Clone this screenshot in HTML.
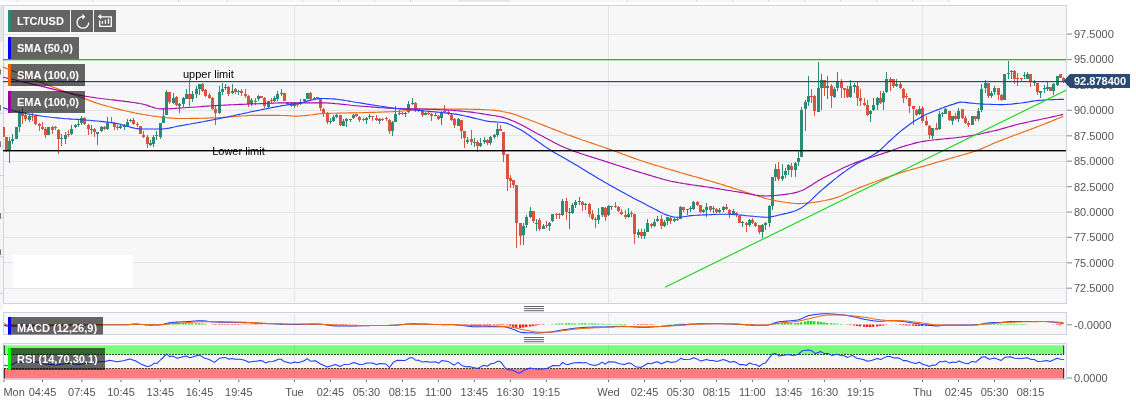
<!DOCTYPE html>
<html lang="en"><head><meta charset="utf-8"><title>LTC/USD</title>
<style>
html,body{margin:0;padding:0;background:#fff;}
body{width:1136px;height:413px;overflow:hidden;font-family:"Liberation Sans",Arial,sans-serif;}
svg{display:block;position:absolute;left:0;top:0;}
.ax{font-family:"Liberation Sans",Arial,sans-serif;font-size:11px;fill:#555;}
.lb{font-family:"Liberation Sans",Arial,sans-serif;font-size:11px;font-weight:bold;fill:#fff;}
.an{font-family:"Liberation Sans",Arial,sans-serif;font-size:11px;fill:#000;}
.tg{font-family:"Liberation Sans",Arial,sans-serif;font-size:11px;font-weight:bold;fill:#fff;}
</style></head><body>
<svg width="1136" height="413" viewBox="0 0 1136 413">
<rect x="0" y="0" width="1136" height="413" fill="#fff"/>
<g id="tabs">
<rect x="0" y="0" width="950" height="1.5" fill="#f6f6f6"/>
<rect x="17.0" y="0" width="1" height="2" fill="#d4d8ee"/>
<rect x="92.0" y="0" width="1" height="2" fill="#d4d8ee"/>
<rect x="178.0" y="0" width="1" height="2" fill="#d4d8ee"/>
<rect x="227.0" y="0" width="1" height="2" fill="#d4d8ee"/>
<rect x="302.0" y="0" width="1" height="2" fill="#d4d8ee"/>
<rect x="338.0" y="0" width="1" height="2" fill="#d4d8ee"/>
<rect x="374.0" y="0" width="1" height="2" fill="#d4d8ee"/>
<rect x="410.0" y="0" width="1" height="2" fill="#d4d8ee"/>
<rect x="459.0" y="0" width="1" height="2" fill="#d4d8ee"/>
<rect x="508.5" y="0" width="1" height="2" fill="#d4d8ee"/>
<rect x="627.0" y="0" width="1" height="2" fill="#d4d8ee"/>
<rect x="696.0" y="0" width="1" height="2" fill="#d4d8ee"/>
<rect x="732.0" y="0" width="1" height="2" fill="#d4d8ee"/>
<rect x="768.0" y="0" width="1" height="2" fill="#d4d8ee"/>
<rect x="804.0" y="0" width="1" height="2" fill="#d4d8ee"/>
<rect x="840.0" y="0" width="1" height="2" fill="#d4d8ee"/>
<rect x="876.0" y="0" width="1" height="2" fill="#d4d8ee"/>
<rect x="912.0" y="0" width="1" height="2" fill="#d4d8ee"/>
<rect x="948.0" y="0" width="1" height="2" fill="#d4d8ee"/>
<rect x="460" y="0" width="49" height="1.5" fill="#e4e4e4"/>
</g>
<rect x="0" y="5" width="3" height="37" fill="#e6e6e6"/>
<rect x="0" y="42" width="3" height="268" fill="#f5f5f5"/>
<rect x="0" y="112.8" width="3" height="1" fill="#cdd3e7"/>
<rect x="0" y="175.0" width="3" height="1" fill="#cdd3e7"/>
<rect x="0" y="217.0" width="3" height="1" fill="#cdd3e7"/>
<rect x="0" y="256.5" width="3" height="1" fill="#cdd3e7"/>
<rect x="0" y="293.0" width="3" height="1" fill="#cdd3e7"/>
<rect x="0" y="69.3" width="1" height="5.3" fill="#777"/>
<rect x="0" y="105" width="1" height="5.6" fill="#777"/>
<rect x="0" y="141.4" width="1" height="5.6" fill="#777"/>
<rect x="0" y="213" width="1" height="5.7" fill="#777"/>
<rect x="0" y="249.3" width="1" height="5.7" fill="#777"/>
<rect id="main" x="3.5" y="5.5" width="1063.0" height="298.0" fill="#f7f7f7" stroke="#cdd3e7" stroke-width="1"/>
<rect id="macd" x="3.5" y="312.5" width="1063.0" height="22.0" fill="#f7f7f7" stroke="#cdd3e7" stroke-width="1"/>
<rect id="rsi" x="3.5" y="343.5" width="1063.0" height="36.0" fill="#f7f7f7" stroke="#cdd3e7" stroke-width="1"/>
<g id="grid" stroke="#e4e4e4" stroke-width="1">
<line x1="4" x2="1066" y1="34.5" y2="34.5"/>
<line x1="4" x2="1066" y1="59.5" y2="59.5"/>
<line x1="4" x2="1066" y1="85.5" y2="85.5"/>
<line x1="4" x2="1066" y1="110.5" y2="110.5"/>
<line x1="4" x2="1066" y1="135.5" y2="135.5"/>
<line x1="4" x2="1066" y1="161.5" y2="161.5"/>
<line x1="4" x2="1066" y1="186.5" y2="186.5"/>
<line x1="4" x2="1066" y1="212.5" y2="212.5"/>
<line x1="4" x2="1066" y1="237.5" y2="237.5"/>
<line x1="4" x2="1066" y1="262.5" y2="262.5"/>
<line x1="4" x2="1066" y1="288.5" y2="288.5"/>
<line x1="294.5" x2="294.5" y1="6" y2="303"/>
<line x1="294.5" x2="294.5" y1="313" y2="334"/>
<line x1="608.5" x2="608.5" y1="6" y2="303"/>
<line x1="608.5" x2="608.5" y1="313" y2="334"/>
<line x1="922.5" x2="922.5" y1="6" y2="303"/>
<line x1="922.5" x2="922.5" y1="313" y2="334"/>
</g>
<rect x="13" y="255" width="120" height="33" fill="#fff"/>
<clipPath id="cm"><rect x="3" y="6" width="1063.5" height="297.5"/></clipPath>
<clipPath id="cd"><rect x="4" y="313" width="1062" height="21"/></clipPath>
<clipPath id="cr"><rect x="4" y="344" width="1062" height="35"/></clipPath>
<g id="series" clip-path="url(#cm)">
<path id="cg" shape-rendering="crispEdges" fill="#2c8b74" d="M9 137h1v26h-1zM12 134h1v10h-1zM16 127h1v12h-1zM19 110h1v22h-1zM29 115h1v7h-1zM48 127h1v8h-1zM61 134h1v12h-1zM65 132h1v12h-1zM71 125h1v10h-1zM75 124h1v4h-1zM78 120h1v7h-1zM81 116h1v9h-1zM91 125h1v9h-1zM97 132h1v13h-1zM101 126h1v6h-1zM107 117h1v13h-1zM120 124h1v5h-1zM124 124h1v6h-1zM127 119h1v8h-1zM130 119h1v3h-1zM150 140h1v6h-1zM153 135h1v12h-1zM156 131h1v9h-1zM160 123h1v16h-1zM163 108h1v15h-1zM166 90h1v25h-1zM173 93h1v11h-1zM179 103h1v10h-1zM183 97h1v10h-1zM186 89h1v10h-1zM192 91h1v11h-1zM196 86h1v12h-1zM199 84h1v11h-1zM219 86h1v28h-1zM222 83h1v12h-1zM225 84h1v6h-1zM232 84h1v10h-1zM238 90h1v5h-1zM251 98h1v8h-1zM258 95h1v6h-1zM268 101h1v7h-1zM274 96h1v6h-1zM277 91h1v10h-1zM281 89h1v7h-1zM294 102h1v6h-1zM300 99h1v6h-1zM304 99h1v3h-1zM307 93h1v6h-1zM314 97h1v3h-1zM330 118h1v6h-1zM333 115h1v7h-1zM336 114h1v4h-1zM343 119h1v7h-1zM346 118h1v9h-1zM350 119h1v3h-1zM353 114h1v5h-1zM366 117h1v7h-1zM369 114h1v5h-1zM379 118h1v6h-1zM392 121h1v15h-1zM395 106h1v16h-1zM399 110h1v5h-1zM405 112h1v5h-1zM408 101h1v12h-1zM412 98h1v7h-1zM425 112h1v3h-1zM435 113h1v3h-1zM441 111h1v14h-1zM458 118h1v8h-1zM467 137h1v7h-1zM474 138h1v9h-1zM480 138h1v9h-1zM484 137h1v7h-1zM490 136h1v9h-1zM494 134h1v5h-1zM497 123h1v14h-1zM523 223h1v22h-1zM526 215h1v13h-1zM530 207h1v11h-1zM536 219h1v12h-1zM543 224h1v5h-1zM549 222h1v9h-1zM552 214h1v8h-1zM562 199h1v17h-1zM569 208h1v21h-1zM572 203h1v11h-1zM575 200h1v8h-1zM579 197h1v8h-1zM585 203h1v7h-1zM598 208h1v16h-1zM602 207h1v10h-1zM608 205h1v11h-1zM611 206h1v4h-1zM628 208h1v10h-1zM638 229h1v9h-1zM644 229h1v10h-1zM647 219h1v13h-1zM654 219h1v8h-1zM657 216h1v6h-1zM664 220h1v7h-1zM667 217h1v8h-1zM674 218h1v4h-1zM677 217h1v4h-1zM680 206h1v13h-1zM687 209h1v6h-1zM690 206h1v6h-1zM693 201h1v9h-1zM703 209h1v4h-1zM706 203h1v14h-1zM713 206h1v7h-1zM719 208h1v5h-1zM723 206h1v6h-1zM733 209h1v6h-1zM742 221h1v6h-1zM749 219h1v8h-1zM762 224h1v14h-1zM765 222h1v8h-1zM769 205h1v22h-1zM772 177h1v33h-1zM775 164h1v17h-1zM782 164h1v17h-1zM785 168h1v10h-1zM788 164h1v11h-1zM795 162h1v15h-1zM798 150h1v16h-1zM801 107h1v50h-1zM805 100h1v31h-1zM808 76h1v30h-1zM818 62h1v50h-1zM821 74h1v36h-1zM827 76h1v23h-1zM834 87h1v11h-1zM837 72h1v19h-1zM850 80h1v18h-1zM854 83h1v10h-1zM870 110h1v12h-1zM873 98h1v13h-1zM877 97h1v13h-1zM883 91h1v19h-1zM886 72h1v21h-1zM896 79h1v8h-1zM919 106h1v9h-1zM932 128h1v11h-1zM939 111h1v19h-1zM942 112h1v5h-1zM945 108h1v6h-1zM952 116h1v9h-1zM958 108h1v14h-1zM972 116h1v9h-1zM978 108h1v13h-1zM981 84h1v28h-1zM985 80h1v13h-1zM991 91h1v7h-1zM994 86h1v9h-1zM1004 74h1v26h-1zM1008 61h1v18h-1zM1011 70h1v9h-1zM1024 72h1v7h-1zM1027 72h1v7h-1zM1034 80h1v6h-1zM1040 91h1v7h-1zM1044 85h1v8h-1zM1047 81h1v10h-1zM1053 83h1v12h-1zM1057 76h1v10h-1zM8 141h3v9h-3zM11 139h3v2h-3zM15 127h3v12h-3zM18 113h3v14h-3zM28 116h3v4h-3zM47 127h3v8h-3zM60 138h3v1h-3zM64 135h3v4h-3zM70 129h3v5h-3zM74 125h3v2h-3zM77 124h3v1h-3zM80 118h3v5h-3zM90 129h3v1h-3zM96 132h3v2h-3zM100 127h3v4h-3zM106 123h3v6h-3zM119 126h3v2h-3zM123 126h3v1h-3zM126 122h3v4h-3zM129 120h3v1h-3zM149 143h3v2h-3zM152 137h3v7h-3zM155 135h3v1h-3zM159 123h3v14h-3zM162 116h3v7h-3zM165 92h3v23h-3zM172 98h3v5h-3zM178 104h3v2h-3zM182 98h3v6h-3zM185 94h3v5h-3zM191 94h3v5h-3zM195 89h3v5h-3zM198 84h3v5h-3zM218 92h3v21h-3zM221 89h3v3h-3zM224 87h3v1h-3zM231 91h3v2h-3zM237 91h3v1h-3zM250 100h3v4h-3zM257 96h3v3h-3zM267 101h3v6h-3zM273 98h3v3h-3zM276 94h3v5h-3zM280 93h3v1h-3zM293 103h3v3h-3zM299 102h3v2h-3zM303 99h3v2h-3zM306 93h3v6h-3zM313 98h3v1h-3zM329 121h3v1h-3zM332 117h3v4h-3zM335 115h3v2h-3zM342 121h3v5h-3zM345 119h3v2h-3zM349 119h3v1h-3zM352 115h3v3h-3zM365 118h3v2h-3zM368 116h3v1h-3zM378 119h3v2h-3zM391 122h3v9h-3zM394 114h3v8h-3zM398 113h3v1h-3zM404 113h3v1h-3zM407 104h3v8h-3zM411 103h3v1h-3zM424 113h3v2h-3zM434 115h3v1h-3zM440 113h3v5h-3zM457 119h3v7h-3zM466 140h3v2h-3zM473 142h3v1h-3zM479 143h3v3h-3zM483 140h3v2h-3zM489 137h3v6h-3zM493 135h3v2h-3zM496 129h3v6h-3zM522 226h3v9h-3zM525 217h3v8h-3zM529 211h3v6h-3zM535 223h3v1h-3zM542 226h3v3h-3zM548 223h3v3h-3zM551 214h3v7h-3zM561 201h3v14h-3zM568 212h3v1h-3zM571 205h3v8h-3zM574 202h3v3h-3zM578 201h3v1h-3zM584 204h3v1h-3zM597 215h3v5h-3zM601 207h3v8h-3zM607 206h3v9h-3zM610 206h3v1h-3zM627 214h3v3h-3zM637 232h3v3h-3zM643 232h3v4h-3zM646 223h3v9h-3zM653 222h3v4h-3zM656 219h3v2h-3zM663 222h3v4h-3zM666 217h3v4h-3zM673 219h3v2h-3zM676 219h3v1h-3zM679 207h3v12h-3zM686 209h3v1h-3zM689 208h3v1h-3zM692 202h3v7h-3zM702 210h3v2h-3zM705 207h3v3h-3zM712 208h3v1h-3zM718 210h3v2h-3zM722 207h3v3h-3zM732 211h3v3h-3zM741 222h3v1h-3zM748 220h3v5h-3zM761 225h3v7h-3zM764 223h3v2h-3zM768 206h3v17h-3zM771 177h3v29h-3zM774 169h3v8h-3zM781 176h3v3h-3zM784 171h3v4h-3zM787 165h3v5h-3zM794 163h3v7h-3zM797 158h3v4h-3zM800 110h3v47h-3zM804 102h3v7h-3zM807 96h3v6h-3zM817 88h3v24h-3zM820 80h3v8h-3zM826 86h3v2h-3zM833 89h3v8h-3zM836 82h3v6h-3zM849 86h3v11h-3zM853 85h3v2h-3zM869 111h3v3h-3zM872 105h3v5h-3zM876 98h3v7h-3zM882 93h3v9h-3zM885 79h3v13h-3zM895 84h3v2h-3zM918 109h3v5h-3zM931 128h3v8h-3zM938 114h3v15h-3zM941 113h3v1h-3zM944 109h3v5h-3zM951 116h3v5h-3zM957 111h3v8h-3zM971 116h3v9h-3zM977 111h3v8h-3zM980 89h3v21h-3zM984 83h3v5h-3zM990 93h3v3h-3zM993 88h3v4h-3zM1003 74h3v26h-3zM1007 73h3v1h-3zM1010 71h3v1h-3zM1023 75h3v1h-3zM1026 74h3v5h-3zM1033 81h3v2h-3zM1039 91h3v2h-3zM1043 88h3v1h-3zM1046 87h3v2h-3zM1052 84h3v7h-3zM1056 76h3v9h-3z"/>
<path id="crd" shape-rendering="crispEdges" fill="#d8543f" d="M3 127h1v10h-1zM6 137h1v15h-1zM22 108h1v16h-1zM25 112h1v9h-1zM32 113h1v8h-1zM35 115h1v10h-1zM39 123h1v8h-1zM42 122h1v8h-1zM45 127h1v11h-1zM52 126h1v8h-1zM55 126h1v4h-1zM58 129h1v25h-1zM68 130h1v7h-1zM84 117h1v8h-1zM88 124h1v11h-1zM94 128h1v9h-1zM104 126h1v4h-1zM111 117h1v5h-1zM114 122h1v8h-1zM117 125h1v5h-1zM133 118h1v7h-1zM137 122h1v5h-1zM140 126h1v8h-1zM143 131h1v7h-1zM147 135h1v13h-1zM169 92h1v12h-1zM176 96h1v10h-1zM189 80h1v26h-1zM202 83h1v9h-1zM205 89h1v8h-1zM209 93h1v6h-1zM212 97h1v13h-1zM215 106h1v19h-1zM228 86h1v10h-1zM235 88h1v6h-1zM241 89h1v7h-1zM245 89h1v9h-1zM248 95h1v12h-1zM255 98h1v7h-1zM261 96h1v2h-1zM264 97h1v11h-1zM271 98h1v5h-1zM284 93h1v8h-1zM287 102h1v2h-1zM291 102h1v5h-1zM297 103h1v4h-1zM310 92h1v8h-1zM317 97h1v2h-1zM320 98h1v13h-1zM323 108h1v9h-1zM327 112h1v12h-1zM340 115h1v11h-1zM356 114h1v3h-1zM359 116h1v6h-1zM363 118h1v3h-1zM372 116h1v5h-1zM376 115h1v6h-1zM382 118h1v3h-1zM386 117h1v4h-1zM389 119h1v15h-1zM402 112h1v3h-1zM415 102h1v10h-1zM418 109h1v3h-1zM422 110h1v7h-1zM428 112h1v3h-1zM431 113h1v8h-1zM438 115h1v5h-1zM444 105h1v8h-1zM448 111h1v4h-1zM451 114h1v7h-1zM454 118h1v10h-1zM461 120h1v19h-1zM464 131h1v17h-1zM471 130h1v15h-1zM477 140h1v12h-1zM487 139h1v6h-1zM500 125h1v6h-1zM503 132h1v30h-1zM507 154h1v37h-1zM510 175h1v13h-1zM513 180h1v8h-1zM516 185h1v63h-1zM520 223h1v22h-1zM533 211h1v12h-1zM539 218h1v13h-1zM546 221h1v7h-1zM556 213h1v6h-1zM559 213h1v6h-1zM566 198h1v22h-1zM582 201h1v10h-1zM589 203h1v14h-1zM592 210h1v10h-1zM595 217h1v11h-1zM605 207h1v14h-1zM615 202h1v6h-1zM618 206h1v6h-1zM621 209h1v6h-1zM625 210h1v9h-1zM631 211h1v6h-1zM634 214h1v30h-1zM641 229h1v10h-1zM651 223h1v5h-1zM661 215h1v14h-1zM670 217h1v7h-1zM683 207h1v5h-1zM697 201h1v5h-1zM700 205h1v8h-1zM710 206h1v6h-1zM716 208h1v5h-1zM726 204h1v6h-1zM729 209h1v9h-1zM736 212h1v5h-1zM739 215h1v8h-1zM746 222h1v10h-1zM752 218h1v6h-1zM755 222h1v5h-1zM759 225h1v9h-1zM778 162h1v19h-1zM791 163h1v14h-1zM811 89h1v14h-1zM814 95h1v21h-1zM824 80h1v16h-1zM831 84h1v24h-1zM841 79h1v19h-1zM844 88h1v10h-1zM847 86h1v12h-1zM857 82h1v24h-1zM860 89h1v17h-1zM864 98h1v8h-1zM867 100h1v16h-1zM880 91h1v13h-1zM890 77h1v14h-1zM893 79h1v9h-1zM900 82h1v7h-1zM903 88h1v15h-1zM906 93h1v6h-1zM909 98h1v15h-1zM913 106h1v19h-1zM916 109h1v7h-1zM922 106h1v17h-1zM926 116h1v10h-1zM929 125h1v14h-1zM936 123h1v7h-1zM949 111h1v10h-1zM955 113h1v7h-1zM962 109h1v10h-1zM965 116h1v8h-1zM968 121h1v6h-1zM975 116h1v5h-1zM988 83h1v15h-1zM998 88h1v12h-1zM1001 94h1v7h-1zM1014 70h1v14h-1zM1017 73h1v13h-1zM1021 78h1v3h-1zM1030 74h1v13h-1zM1037 83h1v12h-1zM1050 87h1v4h-1zM1060 74h1v4h-1zM1063 77h1v6h-1zM2 127h3v10h-3zM5 137h3v13h-3zM21 113h3v3h-3zM24 115h3v4h-3zM31 116h3v1h-3zM34 116h3v8h-3zM38 124h3v2h-3zM41 127h3v2h-3zM44 129h3v6h-3zM51 127h3v3h-3zM54 127h3v1h-3zM57 130h3v9h-3zM67 134h3v1h-3zM83 118h3v6h-3zM87 125h3v4h-3zM93 129h3v3h-3zM103 127h3v2h-3zM110 122h3v1h-3zM113 123h3v4h-3zM116 127h3v1h-3zM132 120h3v4h-3zM136 124h3v1h-3zM139 126h3v8h-3zM142 135h3v2h-3zM146 137h3v7h-3zM168 92h3v10h-3zM175 97h3v8h-3zM188 94h3v5h-3zM201 84h3v7h-3zM204 90h3v6h-3zM208 95h3v3h-3zM211 98h3v11h-3zM214 109h3v4h-3zM227 87h3v7h-3zM234 89h3v3h-3zM240 91h3v2h-3zM244 94h3v2h-3zM247 96h3v8h-3zM254 101h3v1h-3zM260 96h3v2h-3zM263 98h3v8h-3zM270 100h3v1h-3zM283 93h3v8h-3zM286 102h3v2h-3zM290 103h3v3h-3zM296 104h3v1h-3zM309 93h3v6h-3zM316 97h3v1h-3zM319 99h3v9h-3zM322 109h3v5h-3zM326 114h3v8h-3zM339 115h3v10h-3zM355 114h3v2h-3zM358 117h3v3h-3zM362 119h3v1h-3zM371 116h3v1h-3zM375 118h3v2h-3zM381 119h3v1h-3zM385 118h3v1h-3zM388 120h3v11h-3zM401 113h3v1h-3zM414 103h3v6h-3zM417 109h3v2h-3zM421 111h3v4h-3zM427 113h3v1h-3zM430 114h3v2h-3zM437 116h3v3h-3zM443 111h3v1h-3zM447 112h3v1h-3zM450 115h3v5h-3zM453 119h3v6h-3zM460 120h3v11h-3zM463 131h3v7h-3zM470 139h3v3h-3zM476 142h3v4h-3zM486 140h3v3h-3zM499 129h3v2h-3zM502 132h3v23h-3zM506 154h3v25h-3zM509 178h3v3h-3zM512 180h3v5h-3zM515 185h3v38h-3zM519 223h3v13h-3zM532 211h3v10h-3zM538 220h3v9h-3zM545 225h3v1h-3zM555 214h3v1h-3zM558 214h3v1h-3zM565 201h3v11h-3zM581 202h3v3h-3zM588 204h3v10h-3zM591 214h3v5h-3zM594 219h3v1h-3zM604 208h3v9h-3zM614 206h3v1h-3zM617 207h3v4h-3zM620 212h3v2h-3zM624 215h3v2h-3zM630 213h3v1h-3zM633 214h3v20h-3zM640 232h3v4h-3zM650 224h3v2h-3zM660 219h3v7h-3zM669 218h3v3h-3zM682 207h3v3h-3zM696 202h3v3h-3zM699 205h3v7h-3zM709 206h3v4h-3zM715 209h3v3h-3zM725 207h3v2h-3zM728 210h3v4h-3zM735 213h3v2h-3zM738 216h3v7h-3zM745 223h3v2h-3zM751 220h3v3h-3zM754 223h3v3h-3zM758 225h3v7h-3zM777 169h3v10h-3zM790 166h3v4h-3zM810 96h3v1h-3zM813 96h3v15h-3zM823 80h3v8h-3zM830 86h3v10h-3zM840 82h3v6h-3zM843 88h3v2h-3zM846 89h3v8h-3zM856 86h3v12h-3zM859 98h3v3h-3zM863 103h3v2h-3zM866 105h3v10h-3zM879 98h3v5h-3zM889 79h3v2h-3zM892 79h3v7h-3zM899 84h3v4h-3zM902 89h3v9h-3zM905 96h3v1h-3zM908 98h3v8h-3zM912 106h3v3h-3zM915 110h3v5h-3zM921 108h3v13h-3zM925 121h3v4h-3zM928 126h3v9h-3zM935 128h3v2h-3zM948 111h3v9h-3zM954 116h3v3h-3zM961 109h3v9h-3zM964 118h3v5h-3zM967 123h3v2h-3zM974 116h3v3h-3zM987 83h3v13h-3zM997 88h3v7h-3zM1000 95h3v5h-3zM1013 71h3v8h-3zM1016 78h3v1h-3zM1020 78h3v1h-3zM1029 74h3v8h-3zM1036 83h3v9h-3zM1049 87h3v4h-3zM1059 74h3v4h-3zM1062 78h3v3h-3z"/>
<path id="sma100" d="M3.1 67.1 L5.2 67.9 L7.2 68.7 L9.2 69.5 L11.2 70.3 L13.2 71.1 L15.2 71.9 L17.1 72.8 L19.1 73.6 L21.1 74.4 L23.1 75.2 L25.1 76.0 L27.1 76.8 L29.1 77.6 L31.1 78.4 L33.1 79.2 L35.1 80.0 L37.1 80.8 L39.1 81.6 L41.1 82.4 L43.1 83.2 L45.1 84.0 L47.1 84.8 L49.1 85.5 L51.1 86.3 L53.1 87.1 L55.1 87.8 L57.1 88.6 L59.1 89.3 L61.1 90.1 L63.1 90.8 L65.2 91.6 L67.2 92.3 L69.2 93.0 L71.2 93.8 L73.2 94.5 L75.2 95.2 L77.2 96.0 L79.2 96.7 L81.2 97.4 L83.2 98.1 L85.2 98.9 L87.2 99.6 L89.2 100.4 L91.2 101.1 L93.2 101.9 L95.2 102.6 L97.2 103.3 L99.2 103.9 L101.2 104.5 L103.2 105.1 L105.2 105.6 L107.2 106.2 L109.2 106.8 L111.2 107.3 L113.2 107.8 L115.2 108.4 L117.2 108.9 L119.2 109.4 L121.2 109.9 L123.2 110.3 L125.2 110.8 L127.2 111.3 L129.2 111.7 L131.2 112.1 L133.2 112.6 L135.2 113.0 L137.2 113.4 L139.2 113.7 L141.2 114.1 L143.2 114.5 L145.2 114.8 L147.2 115.1 L149.2 115.5 L151.2 115.8 L153.2 116.1 L155.2 116.3 L157.2 116.6 L159.2 116.8 L161.2 117.1 L163.2 117.3 L165.2 117.5 L167.2 117.7 L169.2 117.9 L171.2 118.1 L173.2 118.3 L175.2 118.4 L177.2 118.5 L179.2 118.5 L181.2 118.5 L183.2 118.5 L185.2 118.5 L187.2 118.5 L189.2 118.5 L191.2 118.4 L193.2 118.4 L195.2 118.4 L197.2 118.3 L199.2 118.3 L201.2 118.2 L203.2 118.2 L205.2 118.1 L207.2 118.1 L209.2 118.0 L211.2 117.9 L213.2 117.8 L215.2 117.8 L217.2 117.7 L219.2 117.6 L221.2 117.5 L223.2 117.3 L225.2 117.2 L227.2 117.1 L229.2 116.9 L231.2 116.8 L233.2 116.6 L235.2 116.4 L237.2 116.3 L239.2 116.1 L241.2 116.0 L243.2 115.8 L245.2 115.7 L247.2 115.6 L249.2 115.5 L251.2 115.4 L253.2 115.4 L255.2 115.4 L257.1 115.4 L259.1 115.4 L261.1 115.4 L263.1 115.4 L265.1 115.4 L267.1 115.4 L269.1 115.4 L271.1 115.4 L273.1 115.4 L275.1 115.4 L277.1 115.4 L279.1 115.4 L281.1 115.5 L283.1 115.5 L285.1 115.5 L287.1 115.6 L289.1 115.7 L291.1 115.9 L293.1 116.0 L295.1 116.1 L297.1 116.1 L299.1 116.0 L301.1 115.9 L303.1 115.8 L305.1 115.6 L307.1 115.4 L309.1 115.2 L311.1 115.0 L313.1 114.7 L315.1 114.4 L317.1 114.1 L319.1 113.8 L321.1 113.6 L323.1 113.5 L325.1 113.4 L327.1 113.4 L329.1 113.3 L331.1 113.3 L333.1 113.2 L335.1 113.2 L337.1 113.1 L339.1 113.1 L341.1 113.1 L343.1 113.0 L345.1 113.0 L347.1 113.0 L349.1 112.9 L351.1 112.9 L353.1 112.8 L355.1 112.8 L357.1 112.8 L359.1 112.7 L361.1 112.7 L363.1 112.6 L365.1 112.5 L367.1 112.5 L369.1 112.4 L371.1 112.4 L373.1 112.3 L375.1 112.3 L377.1 112.2 L379.1 112.1 L381.1 112.1 L383.1 112.0 L385.1 111.9 L387.1 111.9 L389.1 111.8 L391.1 111.7 L393.1 111.6 L395.1 111.5 L397.1 111.5 L399.1 111.3 L401.1 111.2 L403.1 111.0 L405.1 110.8 L407.1 110.6 L409.1 110.4 L411.1 110.1 L413.1 109.9 L415.1 109.7 L417.1 109.5 L419.1 109.3 L421.1 109.2 L423.1 109.1 L425.1 109.1 L427.1 109.1 L429.1 109.1 L431.1 109.1 L433.1 109.1 L435.1 109.1 L437.1 109.1 L439.1 109.1 L441.1 109.1 L443.1 109.1 L445.1 109.1 L447.1 109.1 L449.1 109.1 L451.1 109.1 L453.1 109.1 L455.1 109.1 L457.1 109.1 L459.1 109.1 L461.1 109.1 L463.1 109.1 L465.1 109.1 L467.1 109.1 L469.1 109.2 L471.1 109.2 L473.1 109.3 L475.1 109.3 L477.1 109.4 L479.1 109.4 L481.1 109.5 L483.1 109.6 L485.1 109.7 L487.1 109.7 L489.1 109.8 L491.1 110.0 L493.1 110.1 L495.1 110.4 L497.1 110.6 L499.1 110.9 L501.1 111.3 L503.1 111.7 L505.1 112.0 L507.1 112.5 L509.1 112.9 L511.1 113.4 L513.1 114.0 L515.1 114.6 L517.1 115.3 L519.1 116.1 L521.1 116.8 L523.1 117.6 L525.1 118.3 L527.1 119.0 L529.1 119.8 L531.1 120.5 L533.1 121.2 L535.1 122.0 L537.1 122.8 L539.1 123.5 L541.1 124.3 L543.1 125.1 L545.1 125.9 L547.1 126.7 L549.1 127.5 L551.1 128.3 L553.1 129.1 L555.1 129.9 L557.1 130.7 L559.1 131.4 L561.1 132.2 L563.1 133.0 L565.1 133.7 L567.1 134.5 L569.1 135.2 L571.1 135.9 L573.1 136.6 L575.1 137.4 L577.1 138.1 L579.1 138.8 L581.1 139.5 L583.1 140.2 L585.1 140.8 L587.1 141.5 L589.1 142.2 L591.1 142.9 L593.1 143.6 L595.1 144.3 L597.1 145.0 L599.1 145.7 L601.1 146.3 L603.1 147.0 L605.1 147.7 L607.1 148.4 L609.1 149.1 L611.1 149.8 L613.1 150.5 L615.1 151.2 L617.1 152.0 L619.1 152.7 L621.1 153.4 L623.1 154.2 L625.1 154.9 L627.1 155.7 L629.1 156.4 L631.1 157.1 L633.1 157.9 L635.1 158.6 L637.1 159.3 L639.1 160.0 L641.1 160.7 L643.1 161.3 L645.1 162.0 L647.1 162.6 L649.1 163.3 L651.1 163.9 L653.1 164.5 L655.1 165.1 L657.1 165.7 L659.1 166.3 L661.1 166.9 L663.1 167.5 L665.1 168.1 L667.1 168.7 L669.1 169.3 L671.1 169.9 L673.1 170.4 L675.1 171.0 L677.1 171.6 L679.1 172.2 L681.1 172.8 L683.1 173.3 L685.1 173.9 L687.1 174.5 L689.1 175.1 L691.1 175.6 L693.1 176.2 L695.1 176.7 L697.1 177.3 L699.1 177.9 L701.1 178.4 L703.1 179.0 L705.1 179.6 L707.1 180.1 L709.1 180.7 L711.1 181.3 L713.1 181.9 L715.1 182.5 L717.1 183.1 L719.1 183.7 L721.1 184.3 L723.1 184.9 L725.1 185.6 L727.1 186.2 L729.1 186.8 L731.1 187.4 L733.1 188.1 L735.1 188.7 L737.1 189.3 L739.1 190.0 L741.1 190.6 L743.1 191.3 L745.1 192.0 L747.1 192.6 L749.1 193.3 L751.1 193.9 L753.1 194.6 L755.1 195.2 L757.1 195.8 L759.1 196.4 L761.1 197.0 L763.1 197.6 L765.1 198.2 L767.1 198.8 L769.1 199.3 L771.1 199.8 L773.1 200.2 L775.1 200.6 L777.1 201.0 L779.1 201.4 L781.1 201.7 L783.1 202.0 L785.1 202.3 L787.1 202.5 L789.1 202.8 L791.1 203.1 L793.1 203.3 L795.1 203.5 L797.1 203.6 L799.1 203.6 L801.1 203.5 L803.1 203.4 L805.1 203.2 L807.1 203.0 L809.1 202.9 L811.1 202.7 L813.1 202.4 L815.1 202.2 L817.1 201.9 L819.1 201.6 L821.1 201.2 L823.1 200.8 L825.1 200.5 L827.1 200.0 L829.1 199.6 L831.1 199.1 L833.1 198.6 L835.1 198.0 L837.1 197.4 L839.1 196.8 L841.1 196.0 L843.1 195.1 L845.1 194.1 L847.1 193.1 L849.1 192.1 L851.1 191.2 L853.1 190.4 L855.1 189.5 L857.1 188.7 L859.1 187.9 L861.1 187.1 L863.1 186.3 L865.1 185.5 L867.1 184.8 L869.1 184.0 L871.1 183.3 L873.1 182.5 L875.1 181.8 L877.1 181.0 L879.1 180.3 L881.1 179.6 L883.1 178.8 L885.1 178.1 L887.1 177.4 L889.1 176.7 L891.1 175.9 L893.1 175.2 L895.1 174.6 L897.1 173.9 L899.1 173.2 L901.1 172.6 L903.1 172.0 L905.1 171.4 L907.1 170.8 L909.1 170.2 L911.1 169.7 L913.1 169.1 L915.1 168.6 L917.1 168.0 L919.1 167.5 L921.1 166.9 L923.1 166.4 L925.1 165.8 L927.1 165.2 L929.1 164.6 L931.1 164.1 L933.1 163.5 L935.1 162.9 L937.1 162.3 L939.1 161.7 L941.1 161.1 L943.1 160.6 L945.1 160.0 L947.1 159.4 L949.1 158.8 L951.1 158.2 L953.1 157.6 L955.1 157.0 L957.1 156.5 L959.1 155.9 L961.1 155.3 L963.1 154.8 L965.1 154.2 L967.1 153.6 L969.1 153.0 L971.1 152.4 L973.1 151.8 L975.1 151.1 L977.1 150.4 L979.1 149.7 L981.1 148.9 L983.1 148.1 L985.1 147.2 L987.1 146.3 L989.1 145.4 L991.1 144.5 L993.1 143.6 L995.1 142.8 L997.1 142.0 L999.1 141.2 L1001.1 140.4 L1003.1 139.6 L1005.1 138.8 L1007.1 138.1 L1009.1 137.3 L1011.1 136.6 L1013.1 135.8 L1015.1 135.0 L1017.1 134.3 L1019.1 133.6 L1021.1 132.8 L1023.1 132.1 L1025.2 131.3 L1027.2 130.6 L1029.2 129.8 L1031.2 129.1 L1033.2 128.3 L1035.2 127.6 L1037.2 126.8 L1039.2 126.0 L1041.2 125.2 L1043.2 124.5 L1045.2 123.7 L1047.2 122.9 L1049.2 122.1 L1051.2 121.3 L1053.2 120.4 L1055.2 119.6 L1057.2 118.8 L1059.2 118.0 L1061.2 117.2 L1063.2 116.3 L1063.2 116.3" fill="none" stroke="#ee6a12" stroke-width="1.15" stroke-linejoin="round"/>
<path id="ema100" d="M3.1 77.2 L5.2 77.7 L7.2 78.1 L9.2 78.6 L11.2 79.1 L13.2 79.5 L15.2 80.0 L17.1 80.5 L19.1 81.0 L21.1 81.4 L23.1 81.9 L25.1 82.4 L27.1 82.9 L29.1 83.3 L31.1 83.8 L33.1 84.3 L35.1 84.7 L37.1 85.2 L39.1 85.7 L41.1 86.2 L43.1 86.6 L45.1 87.1 L47.1 87.6 L49.1 88.1 L51.1 88.6 L53.1 89.1 L55.1 89.6 L57.1 90.1 L59.1 90.6 L61.1 91.1 L63.1 91.6 L65.2 92.0 L67.2 92.5 L69.2 93.0 L71.2 93.4 L73.2 93.9 L75.2 94.3 L77.2 94.7 L79.2 95.1 L81.2 95.5 L83.2 95.9 L85.2 96.2 L87.2 96.5 L89.2 96.8 L91.2 97.2 L93.2 97.4 L95.2 97.7 L97.2 98.0 L99.2 98.2 L101.2 98.5 L103.2 98.7 L105.2 99.0 L107.2 99.2 L109.2 99.5 L111.2 99.7 L113.2 99.9 L115.2 100.1 L117.2 100.4 L119.2 100.6 L121.2 100.9 L123.2 101.1 L125.2 101.4 L127.2 101.6 L129.2 101.9 L131.2 102.2 L133.2 102.5 L135.2 102.8 L137.2 103.1 L139.2 103.5 L141.2 103.8 L143.2 104.2 L145.2 104.8 L147.2 105.4 L149.2 106.1 L151.2 106.8 L153.2 107.4 L155.2 108.0 L157.2 108.5 L159.2 108.8 L161.2 108.8 L163.2 108.8 L165.2 108.8 L167.2 108.7 L169.2 108.7 L171.2 108.6 L173.2 108.5 L175.2 108.4 L177.2 108.2 L179.2 108.1 L181.2 108.0 L183.2 107.8 L185.2 107.7 L187.2 107.5 L189.2 107.4 L191.2 107.3 L193.2 107.2 L195.2 107.0 L197.2 106.9 L199.2 106.7 L201.2 106.6 L203.2 106.4 L205.2 106.3 L207.2 106.1 L209.2 106.0 L211.2 105.8 L213.2 105.7 L215.2 105.6 L217.2 105.5 L219.2 105.4 L221.2 105.3 L223.2 105.2 L225.2 105.1 L227.2 105.0 L229.2 104.9 L231.2 104.8 L233.2 104.7 L235.2 104.6 L237.2 104.5 L239.2 104.4 L241.2 104.3 L243.2 104.3 L245.2 104.2 L247.2 104.1 L249.2 104.0 L251.2 104.0 L253.2 103.9 L255.2 103.8 L257.1 103.7 L259.1 103.7 L261.1 103.6 L263.1 103.5 L265.1 103.4 L267.1 103.3 L269.1 103.2 L271.1 103.2 L273.1 103.1 L275.1 103.0 L277.1 103.0 L279.1 102.9 L281.1 102.9 L283.1 102.9 L285.1 102.9 L287.1 102.9 L289.1 102.9 L291.1 102.9 L293.1 102.9 L295.1 102.9 L297.1 102.9 L299.1 102.9 L301.1 102.9 L303.1 102.9 L305.1 102.9 L307.1 102.9 L309.1 102.9 L311.1 102.9 L313.1 102.9 L315.1 102.9 L317.1 102.9 L319.1 102.9 L321.1 102.9 L323.1 102.9 L325.1 102.9 L327.1 103.0 L329.1 103.1 L331.1 103.2 L333.1 103.4 L335.1 103.6 L337.1 103.7 L339.1 103.9 L341.1 104.2 L343.1 104.4 L345.1 104.6 L347.1 104.8 L349.1 105.0 L351.1 105.3 L353.1 105.5 L355.1 105.7 L357.1 105.8 L359.1 106.0 L361.1 106.2 L363.1 106.3 L365.1 106.5 L367.1 106.6 L369.1 106.8 L371.1 106.9 L373.1 107.1 L375.1 107.3 L377.1 107.4 L379.1 107.6 L381.1 107.7 L383.1 107.8 L385.1 108.0 L387.1 108.1 L389.1 108.2 L391.1 108.3 L393.1 108.4 L395.1 108.5 L397.1 108.5 L399.1 108.6 L401.1 108.6 L403.1 108.7 L405.1 108.7 L407.1 108.7 L409.1 108.8 L411.1 108.8 L413.1 108.8 L415.1 108.9 L417.1 108.9 L419.1 108.9 L421.1 109.0 L423.1 109.0 L425.1 109.0 L427.1 109.1 L429.1 109.2 L431.1 109.2 L433.1 109.3 L435.1 109.4 L437.1 109.5 L439.1 109.6 L441.1 109.7 L443.1 109.8 L445.1 109.9 L447.1 110.1 L449.1 110.2 L451.1 110.3 L453.1 110.5 L455.1 110.6 L457.1 110.8 L459.1 110.9 L461.1 111.1 L463.1 111.3 L465.1 111.5 L467.1 111.7 L469.1 111.9 L471.1 112.1 L473.1 112.4 L475.1 112.7 L477.1 113.0 L479.1 113.3 L481.1 113.6 L483.1 113.9 L485.1 114.3 L487.1 114.6 L489.1 114.9 L491.1 115.2 L493.1 115.5 L495.1 115.8 L497.1 116.1 L499.1 116.5 L501.1 116.9 L503.1 117.4 L505.1 118.0 L507.1 118.7 L509.1 119.4 L511.1 120.2 L513.1 121.0 L515.1 121.8 L517.1 122.7 L519.1 123.7 L521.1 124.7 L523.1 125.7 L525.1 126.8 L527.1 127.9 L529.1 129.1 L531.1 130.2 L533.1 131.3 L535.1 132.4 L537.1 133.5 L539.1 134.5 L541.1 135.6 L543.1 136.6 L545.1 137.7 L547.1 138.7 L549.1 139.8 L551.1 140.8 L553.1 141.9 L555.1 142.9 L557.1 143.9 L559.1 144.9 L561.1 145.9 L563.1 146.8 L565.1 147.7 L567.1 148.5 L569.1 149.3 L571.1 150.1 L573.1 150.9 L575.1 151.6 L577.1 152.3 L579.1 153.0 L581.1 153.7 L583.1 154.3 L585.1 155.0 L587.1 155.6 L589.1 156.3 L591.1 156.9 L593.1 157.5 L595.1 158.1 L597.1 158.7 L599.1 159.4 L601.1 160.0 L603.1 160.6 L605.1 161.3 L607.1 161.9 L609.1 162.6 L611.1 163.2 L613.1 163.9 L615.1 164.5 L617.1 165.2 L619.1 165.8 L621.1 166.5 L623.1 167.1 L625.1 167.8 L627.1 168.4 L629.1 169.0 L631.1 169.7 L633.1 170.3 L635.1 170.9 L637.1 171.5 L639.1 172.1 L641.1 172.7 L643.1 173.3 L645.1 173.9 L647.1 174.5 L649.1 175.1 L651.1 175.7 L653.1 176.3 L655.1 176.9 L657.1 177.5 L659.1 178.0 L661.1 178.6 L663.1 179.2 L665.1 179.7 L667.1 180.2 L669.1 180.7 L671.1 181.2 L673.1 181.6 L675.1 182.0 L677.1 182.4 L679.1 182.8 L681.1 183.1 L683.1 183.5 L685.1 183.8 L687.1 184.1 L689.1 184.4 L691.1 184.7 L693.1 185.0 L695.1 185.3 L697.1 185.6 L699.1 185.8 L701.1 186.1 L703.1 186.4 L705.1 186.7 L707.1 187.0 L709.1 187.3 L711.1 187.6 L713.1 187.9 L715.1 188.3 L717.1 188.6 L719.1 188.9 L721.1 189.2 L723.1 189.5 L725.1 189.9 L727.1 190.2 L729.1 190.5 L731.1 190.8 L733.1 191.2 L735.1 191.5 L737.1 191.8 L739.1 192.1 L741.1 192.4 L743.1 192.7 L745.1 193.1 L747.1 193.5 L749.1 193.9 L751.1 194.3 L753.1 194.6 L755.1 195.0 L757.1 195.3 L759.1 195.6 L761.1 195.8 L763.1 195.9 L765.1 196.0 L767.1 196.0 L769.1 195.9 L771.1 195.8 L773.1 195.7 L775.1 195.5 L777.1 195.3 L779.1 195.1 L781.1 194.9 L783.1 194.6 L785.1 194.4 L787.1 194.1 L789.1 193.8 L791.1 193.5 L793.1 193.1 L795.1 192.6 L797.1 192.1 L799.1 191.5 L801.1 190.8 L803.1 189.9 L805.1 188.9 L807.1 187.8 L809.1 186.6 L811.1 185.4 L813.1 184.1 L815.1 182.8 L817.1 181.6 L819.1 180.3 L821.1 179.2 L823.1 178.1 L825.1 177.0 L827.1 176.0 L829.1 175.0 L831.1 173.9 L833.1 172.9 L835.1 171.9 L837.1 170.9 L839.1 169.9 L841.1 169.0 L843.1 168.0 L845.1 167.1 L847.1 166.2 L849.1 165.3 L851.1 164.5 L853.1 163.7 L855.1 162.9 L857.1 162.1 L859.1 161.4 L861.1 160.7 L863.1 160.0 L865.1 159.3 L867.1 158.6 L869.1 158.0 L871.1 157.3 L873.1 156.7 L875.1 156.0 L877.1 155.4 L879.1 154.7 L881.1 154.1 L883.1 153.4 L885.1 152.8 L887.1 152.1 L889.1 151.4 L891.1 150.7 L893.1 150.0 L895.1 149.2 L897.1 148.5 L899.1 147.8 L901.1 147.1 L903.1 146.5 L905.1 145.9 L907.1 145.3 L909.1 144.7 L911.1 144.2 L913.1 143.6 L915.1 143.1 L917.1 142.6 L919.1 142.2 L921.1 141.8 L923.1 141.4 L925.1 141.1 L927.1 140.8 L929.1 140.5 L931.1 140.3 L933.1 140.0 L935.1 139.8 L937.1 139.6 L939.1 139.4 L941.1 139.2 L943.1 139.0 L945.1 138.8 L947.1 138.6 L949.1 138.4 L951.1 138.2 L953.1 138.0 L955.1 137.8 L957.1 137.6 L959.1 137.3 L961.1 137.1 L963.1 136.8 L965.1 136.5 L967.1 136.2 L969.1 135.9 L971.1 135.6 L973.1 135.2 L975.1 134.8 L977.1 134.5 L979.1 134.1 L981.1 133.7 L983.1 133.2 L985.1 132.8 L987.1 132.4 L989.1 131.9 L991.1 131.5 L993.1 131.0 L995.1 130.6 L997.1 130.1 L999.1 129.6 L1001.1 129.0 L1003.1 128.4 L1005.1 127.9 L1007.1 127.3 L1009.1 126.7 L1011.1 126.1 L1013.1 125.6 L1015.1 125.0 L1017.1 124.5 L1019.1 124.0 L1021.1 123.5 L1023.1 123.1 L1025.2 122.6 L1027.2 122.2 L1029.2 121.8 L1031.2 121.3 L1033.2 120.9 L1035.2 120.5 L1037.2 120.1 L1039.2 119.7 L1041.2 119.3 L1043.2 118.8 L1045.2 118.4 L1047.2 118.0 L1049.2 117.5 L1051.2 117.1 L1053.2 116.6 L1055.2 116.2 L1057.2 115.8 L1059.2 115.3 L1061.2 114.9 L1063.2 114.4 L1063.2 114.4" fill="none" stroke="#a40cae" stroke-width="1.15" stroke-linejoin="round"/>
<path id="sma50" d="M3.1 107.8 L5.2 108.4 L7.2 109.0 L9.2 109.6 L11.2 110.2 L13.2 110.8 L15.2 111.3 L17.1 111.8 L19.1 112.2 L21.1 112.6 L23.1 113.0 L25.1 113.4 L27.1 113.7 L29.1 114.1 L31.1 114.4 L33.1 114.8 L35.1 115.1 L37.1 115.4 L39.1 115.7 L41.1 116.0 L43.1 116.3 L45.1 116.5 L47.1 116.8 L49.1 117.0 L51.1 117.3 L53.1 117.5 L55.1 117.7 L57.1 117.9 L59.1 118.1 L61.1 118.3 L63.1 118.5 L65.2 118.7 L67.2 118.8 L69.2 118.9 L71.2 119.1 L73.2 119.2 L75.2 119.3 L77.2 119.4 L79.2 119.5 L81.2 119.7 L83.2 119.8 L85.2 120.0 L87.2 120.2 L89.2 120.3 L91.2 120.5 L93.2 120.7 L95.2 120.9 L97.2 121.0 L99.2 121.2 L101.2 121.4 L103.2 121.6 L105.2 121.9 L107.2 122.1 L109.2 122.3 L111.2 122.6 L113.2 122.9 L115.2 123.2 L117.2 123.6 L119.2 124.0 L121.2 124.6 L123.2 125.1 L125.2 125.7 L127.2 126.3 L129.2 126.8 L131.2 127.4 L133.2 127.9 L135.2 128.3 L137.2 128.6 L139.2 128.9 L141.2 129.0 L143.2 129.0 L145.2 129.0 L147.2 129.0 L149.2 129.0 L151.2 129.0 L153.2 129.0 L155.2 129.0 L157.2 129.0 L159.2 129.0 L161.2 129.0 L163.2 128.9 L165.2 128.7 L167.2 128.4 L169.2 128.1 L171.2 127.6 L173.2 127.2 L175.2 126.8 L177.2 126.3 L179.2 125.9 L181.2 125.6 L183.2 125.2 L185.2 124.9 L187.2 124.5 L189.2 124.2 L191.2 123.8 L193.2 123.5 L195.2 123.1 L197.2 122.8 L199.2 122.4 L201.2 122.0 L203.2 121.7 L205.2 121.3 L207.2 120.9 L209.2 120.5 L211.2 120.1 L213.2 119.8 L215.2 119.4 L217.2 119.0 L219.2 118.6 L221.2 118.2 L223.2 117.8 L225.2 117.4 L227.2 117.0 L229.2 116.5 L231.2 116.1 L233.2 115.7 L235.2 115.2 L237.2 114.8 L239.2 114.4 L241.2 114.0 L243.2 113.5 L245.2 113.1 L247.2 112.7 L249.2 112.2 L251.2 111.8 L253.2 111.4 L255.2 111.0 L257.1 110.6 L259.1 110.2 L261.1 109.8 L263.1 109.4 L265.1 109.0 L267.1 108.6 L269.1 108.2 L271.1 107.8 L273.1 107.4 L275.1 107.0 L277.1 106.6 L279.1 106.3 L281.1 105.9 L283.1 105.5 L285.1 105.2 L287.1 104.9 L289.1 104.6 L291.1 104.3 L293.1 104.1 L295.1 103.8 L297.1 103.5 L299.1 103.1 L301.1 102.7 L303.1 102.3 L305.1 101.7 L307.1 101.1 L309.1 100.6 L311.1 100.1 L313.1 99.7 L315.1 99.3 L317.1 98.9 L319.1 98.6 L321.1 98.5 L323.1 98.5 L325.1 98.5 L327.1 98.6 L329.1 98.7 L331.1 98.8 L333.1 98.9 L335.1 99.1 L337.1 99.3 L339.1 99.6 L341.1 99.8 L343.1 100.1 L345.1 100.5 L347.1 100.8 L349.1 101.1 L351.1 101.5 L353.1 101.8 L355.1 102.2 L357.1 102.5 L359.1 102.8 L361.1 103.1 L363.1 103.4 L365.1 103.7 L367.1 104.1 L369.1 104.4 L371.1 104.7 L373.1 105.0 L375.1 105.4 L377.1 105.7 L379.1 106.0 L381.1 106.3 L383.1 106.6 L385.1 106.9 L387.1 107.2 L389.1 107.5 L391.1 107.8 L393.1 108.1 L395.1 108.3 L397.1 108.5 L399.1 108.7 L401.1 108.9 L403.1 109.1 L405.1 109.3 L407.1 109.5 L409.1 109.7 L411.1 109.8 L413.1 110.0 L415.1 110.1 L417.1 110.3 L419.1 110.5 L421.1 110.6 L423.1 110.8 L425.1 111.0 L427.1 111.2 L429.1 111.4 L431.1 111.6 L433.1 111.8 L435.1 111.9 L437.1 112.1 L439.1 112.3 L441.1 112.5 L443.1 112.7 L445.1 112.9 L447.1 113.1 L449.1 113.4 L451.1 113.6 L453.1 113.9 L455.1 114.1 L457.1 114.4 L459.1 114.7 L461.1 115.1 L463.1 115.5 L465.1 116.0 L467.1 116.4 L469.1 116.9 L471.1 117.4 L473.1 117.9 L475.1 118.4 L477.1 118.8 L479.1 119.3 L481.1 119.8 L483.1 120.3 L485.1 120.7 L487.1 121.1 L489.1 121.4 L491.1 121.6 L493.1 121.8 L495.1 121.9 L497.1 122.0 L499.1 122.2 L501.1 122.3 L503.1 122.5 L505.1 122.9 L507.1 123.4 L509.1 124.2 L511.1 125.1 L513.1 126.0 L515.1 126.9 L517.1 127.9 L519.1 129.0 L521.1 130.1 L523.1 131.3 L525.1 132.6 L527.1 133.9 L529.1 135.3 L531.1 136.7 L533.1 138.1 L535.1 139.5 L537.1 141.0 L539.1 142.4 L541.1 143.8 L543.1 145.2 L545.1 146.6 L547.1 148.0 L549.1 149.3 L551.1 150.5 L553.1 151.7 L555.1 152.9 L557.1 154.1 L559.1 155.2 L561.1 156.3 L563.1 157.4 L565.1 158.6 L567.1 159.7 L569.1 160.9 L571.1 162.1 L573.1 163.2 L575.1 164.4 L577.1 165.6 L579.1 166.8 L581.1 168.0 L583.1 169.3 L585.1 170.5 L587.1 171.7 L589.1 172.9 L591.1 174.1 L593.1 175.3 L595.1 176.5 L597.1 177.7 L599.1 178.9 L601.1 180.0 L603.1 181.2 L605.1 182.4 L607.1 183.5 L609.1 184.7 L611.1 185.8 L613.1 186.9 L615.1 188.1 L617.1 189.2 L619.1 190.3 L621.1 191.4 L623.1 192.5 L625.1 193.6 L627.1 194.7 L629.1 195.7 L631.1 196.8 L633.1 197.9 L635.1 198.9 L637.1 200.0 L639.1 201.0 L641.1 202.1 L643.1 203.1 L645.1 204.1 L647.1 205.2 L649.1 206.2 L651.1 207.2 L653.1 208.2 L655.1 209.2 L657.1 210.3 L659.1 211.4 L661.1 212.5 L663.1 213.5 L665.1 214.4 L667.1 215.1 L669.1 215.8 L671.1 216.4 L673.1 216.9 L675.1 217.2 L677.1 217.3 L679.1 217.2 L681.1 217.0 L683.1 216.8 L685.1 216.5 L687.1 216.2 L689.1 215.9 L691.1 215.6 L693.1 215.5 L695.1 215.3 L697.1 215.2 L699.1 215.1 L701.1 215.0 L703.1 214.9 L705.1 214.9 L707.1 214.8 L709.1 214.7 L711.1 214.6 L713.1 214.5 L715.1 214.4 L717.1 214.3 L719.1 214.2 L721.1 214.2 L723.1 214.2 L725.1 214.2 L727.1 214.2 L729.1 214.3 L731.1 214.4 L733.1 214.5 L735.1 214.7 L737.1 214.8 L739.1 215.0 L741.1 215.1 L743.1 215.3 L745.1 215.6 L747.1 215.8 L749.1 216.0 L751.1 216.1 L753.1 216.3 L755.1 216.5 L757.1 216.7 L759.1 216.8 L761.1 217.0 L763.1 217.1 L765.1 217.2 L767.1 217.2 L769.1 217.1 L771.1 216.8 L773.1 216.4 L775.1 216.0 L777.1 215.5 L779.1 215.0 L781.1 214.5 L783.1 214.1 L785.1 213.6 L787.1 213.2 L789.1 212.6 L791.1 212.1 L793.1 211.5 L795.1 210.8 L797.1 210.0 L799.1 209.1 L801.1 208.0 L803.1 206.6 L805.1 205.1 L807.1 203.5 L809.1 201.9 L811.1 200.1 L813.1 198.2 L815.1 196.2 L817.1 194.2 L819.1 192.3 L821.1 190.6 L823.1 188.9 L825.1 187.2 L827.1 185.5 L829.1 183.8 L831.1 182.2 L833.1 180.5 L835.1 178.9 L837.1 177.4 L839.1 175.8 L841.1 174.3 L843.1 172.8 L845.1 171.4 L847.1 169.9 L849.1 168.6 L851.1 167.2 L853.1 165.9 L855.1 164.7 L857.1 163.6 L859.1 162.5 L861.1 161.5 L863.1 160.4 L865.1 159.4 L867.1 158.4 L869.1 157.3 L871.1 156.2 L873.1 155.1 L875.1 153.8 L877.1 152.5 L879.1 151.0 L881.1 149.2 L883.1 147.3 L885.1 145.4 L887.1 143.4 L889.1 141.5 L891.1 139.7 L893.1 137.9 L895.1 136.1 L897.1 134.3 L899.1 132.6 L901.1 130.9 L903.1 129.3 L905.1 127.8 L907.1 126.2 L909.1 124.8 L911.1 123.3 L913.1 121.9 L915.1 120.6 L917.1 119.4 L919.1 118.2 L921.1 117.1 L923.1 116.0 L925.1 115.0 L927.1 114.1 L929.1 113.2 L931.1 112.4 L933.1 111.5 L935.1 110.7 L937.1 109.9 L939.1 109.2 L941.1 108.4 L943.1 107.7 L945.1 106.9 L947.1 106.2 L949.1 105.5 L951.1 104.9 L953.1 104.3 L955.1 103.6 L957.1 102.9 L959.1 102.4 L961.1 102.1 L963.1 102.2 L965.1 102.4 L967.1 102.6 L969.1 102.9 L971.1 103.1 L973.1 103.3 L975.1 103.5 L977.1 103.7 L979.1 103.8 L981.1 104.0 L983.1 104.1 L985.1 104.2 L987.1 104.2 L989.1 104.3 L991.1 104.4 L993.1 104.5 L995.1 104.5 L997.1 104.5 L999.1 104.6 L1001.1 104.6 L1003.1 104.6 L1005.1 104.5 L1007.1 104.4 L1009.1 104.2 L1011.1 104.1 L1013.1 103.9 L1015.1 103.6 L1017.1 103.4 L1019.1 103.2 L1021.1 103.0 L1023.1 102.7 L1025.2 102.4 L1027.2 102.1 L1029.2 101.7 L1031.2 101.4 L1033.2 101.1 L1035.2 100.8 L1037.2 100.6 L1039.2 100.4 L1041.2 100.3 L1043.2 100.1 L1045.2 100.0 L1047.2 99.8 L1049.2 99.7 L1051.2 99.7 L1053.2 99.6 L1055.2 99.5 L1057.2 99.5 L1059.2 99.4 L1061.2 99.4 L1063.2 99.3 L1063.9 99.3" fill="none" stroke="#1f3cff" stroke-width="1.15" stroke-linejoin="round"/>
<line x1="665" y1="287.2" x2="1066.5" y2="90" stroke="#19d619" stroke-width="1.15"/>
<rect x="3" y="59" width="1063" height="1.3" fill="#12c612"/>
<rect x="3" y="81" width="1063" height="1.2" fill="#2d4a70"/>
<rect x="3" y="150" width="1063" height="1.4" fill="#000"/>
<text class="an" x="183" y="78">upper limit</text>
<text class="an" x="212.2" y="155">Lower limit</text>
</g>
<g id="macdseries" clip-path="url(#cd)">
<path d="M129 324.2h2.4v0.2h-2.4zM132 324.1h2.4v0.3h-2.4zM136 324.1h2.4v0.3h-2.4zM162 324.1h2.4v0.3h-2.4zM165 323.4h2.4v1.0h-2.4zM168 323.0h2.4v1.4h-2.4zM172 322.9h2.4v1.5h-2.4zM175 323.0h2.4v1.4h-2.4zM178 323.0h2.4v1.4h-2.4zM182 323.1h2.4v1.3h-2.4zM185 323.2h2.4v1.2h-2.4zM188 323.2h2.4v1.2h-2.4zM191 323.2h2.4v1.2h-2.4zM195 323.2h2.4v1.2h-2.4zM198 323.2h2.4v1.2h-2.4zM201 323.4h2.4v1.0h-2.4zM204 323.8h2.4v0.6h-2.4zM401 324.2h2.4v0.2h-2.4zM404 324.2h2.4v0.2h-2.4zM407 324.1h2.4v0.3h-2.4zM411 324.1h2.4v0.3h-2.4zM414 324.1h2.4v0.3h-2.4zM417 324.1h2.4v0.3h-2.4zM421 324.2h2.4v0.2h-2.4zM424 324.2h2.4v0.2h-2.4zM551 323.9h2.4v0.5h-2.4zM555 323.7h2.4v0.7h-2.4zM558 323.5h2.4v0.9h-2.4zM561 323.4h2.4v1.0h-2.4zM565 323.3h2.4v1.1h-2.4zM568 323.3h2.4v1.1h-2.4zM571 323.4h2.4v1.0h-2.4zM574 323.4h2.4v1.0h-2.4zM578 323.4h2.4v1.0h-2.4zM581 323.3h2.4v1.1h-2.4zM584 323.3h2.4v1.1h-2.4zM588 323.4h2.4v1.0h-2.4zM591 323.5h2.4v0.9h-2.4zM594 323.6h2.4v0.8h-2.4zM597 323.7h2.4v0.7h-2.4zM601 323.8h2.4v0.6h-2.4zM604 323.9h2.4v0.5h-2.4zM607 324.0h2.4v0.4h-2.4zM610 324.0h2.4v0.4h-2.4zM614 324.1h2.4v0.3h-2.4zM617 324.1h2.4v0.3h-2.4zM620 324.1h2.4v0.3h-2.4zM624 324.1h2.4v0.3h-2.4zM666 324.2h2.4v0.2h-2.4zM669 324.0h2.4v0.4h-2.4zM673 323.9h2.4v0.5h-2.4zM676 323.9h2.4v0.5h-2.4zM679 323.8h2.4v0.6h-2.4zM682 323.8h2.4v0.6h-2.4zM686 323.9h2.4v0.5h-2.4zM689 323.9h2.4v0.5h-2.4zM692 324.0h2.4v0.4h-2.4zM696 324.1h2.4v0.3h-2.4zM699 324.1h2.4v0.3h-2.4zM702 324.2h2.4v0.2h-2.4zM771 323.8h2.4v0.6h-2.4zM774 323.2h2.4v1.2h-2.4zM777 322.9h2.4v1.5h-2.4zM781 322.9h2.4v1.5h-2.4zM784 322.9h2.4v1.5h-2.4zM787 322.9h2.4v1.5h-2.4zM790 323.0h2.4v1.4h-2.4zM794 323.0h2.4v1.4h-2.4zM797 322.9h2.4v1.5h-2.4zM800 322.2h2.4v2.2h-2.4zM804 321.4h2.4v3.0h-2.4zM807 320.8h2.4v3.6h-2.4zM810 320.9h2.4v3.5h-2.4zM813 321.2h2.4v3.2h-2.4zM817 321.6h2.4v2.8h-2.4zM820 322.1h2.4v2.3h-2.4zM823 322.6h2.4v1.8h-2.4zM826 323.0h2.4v1.4h-2.4zM830 323.2h2.4v1.2h-2.4zM833 323.4h2.4v1.0h-2.4zM836 323.7h2.4v0.7h-2.4zM840 324.1h2.4v0.3h-2.4zM961 324.2h2.4v0.2h-2.4zM964 324.2h2.4v0.2h-2.4zM967 324.1h2.4v0.3h-2.4zM971 324.0h2.4v0.4h-2.4zM974 324.1h2.4v0.3h-2.4zM977 324.2h2.4v0.2h-2.4zM980 324.1h2.4v0.3h-2.4zM984 323.7h2.4v0.7h-2.4zM987 323.4h2.4v1.0h-2.4zM990 323.5h2.4v0.9h-2.4zM993 323.6h2.4v0.8h-2.4zM997 323.8h2.4v0.6h-2.4zM1000 323.9h2.4v0.5h-2.4zM1003 323.9h2.4v0.5h-2.4zM1007 323.7h2.4v0.7h-2.4zM1010 323.7h2.4v0.7h-2.4zM1013 323.8h2.4v0.6h-2.4zM1016 323.9h2.4v0.5h-2.4zM1020 324.0h2.4v0.4h-2.4zM1023 324.1h2.4v0.3h-2.4zM1026 324.2h2.4v0.2h-2.4z" fill="#1de01d"/>
<path d="M5 324.4h2.4v1.6h-2.4zM8 324.4h2.4v1.4h-2.4zM11 324.4h2.4v1.4h-2.4zM15 324.4h2.4v1.4h-2.4zM18 324.4h2.4v1.4h-2.4zM21 324.4h2.4v1.3h-2.4zM24 324.4h2.4v1.3h-2.4zM28 324.4h2.4v1.2h-2.4zM31 324.4h2.4v1.2h-2.4zM34 324.4h2.4v1.1h-2.4zM38 324.4h2.4v1.1h-2.4zM41 324.4h2.4v1.0h-2.4zM44 324.4h2.4v0.9h-2.4zM47 324.4h2.4v0.8h-2.4zM51 324.4h2.4v0.8h-2.4zM54 324.4h2.4v0.7h-2.4zM57 324.4h2.4v0.6h-2.4zM60 324.4h2.4v0.5h-2.4zM64 324.4h2.4v0.5h-2.4zM67 324.4h2.4v0.4h-2.4zM70 324.4h2.4v0.3h-2.4zM74 324.4h2.4v0.3h-2.4zM77 324.4h2.4v0.2h-2.4zM146 324.4h2.4v0.3h-2.4zM149 324.4h2.4v0.4h-2.4zM152 324.4h2.4v0.4h-2.4zM155 324.4h2.4v0.3h-2.4zM159 324.4h2.4v0.2h-2.4zM211 324.4h2.4v0.4h-2.4zM214 324.4h2.4v0.5h-2.4zM218 324.4h2.4v0.6h-2.4zM221 324.4h2.4v0.6h-2.4zM224 324.4h2.4v0.6h-2.4zM227 324.4h2.4v0.6h-2.4zM231 324.4h2.4v0.5h-2.4zM234 324.4h2.4v0.5h-2.4zM237 324.4h2.4v0.5h-2.4zM240 324.4h2.4v0.4h-2.4zM244 324.4h2.4v0.4h-2.4zM247 324.4h2.4v0.4h-2.4zM250 324.4h2.4v0.4h-2.4zM254 324.4h2.4v0.4h-2.4zM257 324.4h2.4v0.3h-2.4zM260 324.4h2.4v0.3h-2.4zM263 324.4h2.4v0.2h-2.4zM267 324.4h2.4v0.2h-2.4zM270 324.4h2.4v0.2h-2.4zM273 324.4h2.4v0.2h-2.4zM276 324.4h2.4v0.3h-2.4zM280 324.4h2.4v0.4h-2.4zM283 324.4h2.4v0.4h-2.4zM286 324.4h2.4v0.5h-2.4zM290 324.4h2.4v0.5h-2.4zM293 324.4h2.4v0.5h-2.4zM296 324.4h2.4v0.5h-2.4zM299 324.4h2.4v0.4h-2.4zM303 324.4h2.4v0.3h-2.4zM306 324.4h2.4v0.2h-2.4zM322 324.4h2.4v0.2h-2.4zM326 324.4h2.4v0.5h-2.4zM329 324.4h2.4v0.8h-2.4zM332 324.4h2.4v1.0h-2.4zM335 324.4h2.4v1.0h-2.4zM339 324.4h2.4v0.8h-2.4zM342 324.4h2.4v0.7h-2.4zM345 324.4h2.4v0.5h-2.4zM349 324.4h2.4v0.4h-2.4zM352 324.4h2.4v0.3h-2.4zM355 324.4h2.4v0.3h-2.4zM447 324.4h2.4v0.2h-2.4zM450 324.4h2.4v0.2h-2.4zM453 324.4h2.4v0.3h-2.4zM457 324.4h2.4v0.3h-2.4zM460 324.4h2.4v0.4h-2.4zM463 324.4h2.4v0.6h-2.4zM466 324.4h2.4v0.9h-2.4zM470 324.4h2.4v1.3h-2.4zM473 324.4h2.4v1.5h-2.4zM476 324.4h2.4v1.4h-2.4zM479 324.4h2.4v1.3h-2.4zM483 324.4h2.4v1.1h-2.4zM486 324.4h2.4v1.0h-2.4zM489 324.4h2.4v0.9h-2.4zM493 324.4h2.4v0.7h-2.4zM496 324.4h2.4v0.6h-2.4zM499 324.4h2.4v0.6h-2.4zM502 324.4h2.4v0.5h-2.4zM506 324.4h2.4v0.6h-2.4zM509 324.4h2.4v1.4h-2.4zM512 324.4h2.4v2.3h-2.4zM515 324.4h2.4v3.1h-2.4zM519 324.4h2.4v3.7h-2.4zM522 324.4h2.4v3.2h-2.4zM525 324.4h2.4v2.6h-2.4zM529 324.4h2.4v2.1h-2.4zM532 324.4h2.4v1.5h-2.4zM535 324.4h2.4v1.0h-2.4zM538 324.4h2.4v0.7h-2.4zM542 324.4h2.4v0.5h-2.4zM545 324.4h2.4v0.2h-2.4zM633 324.4h2.4v0.3h-2.4zM637 324.4h2.4v0.6h-2.4zM640 324.4h2.4v0.7h-2.4zM643 324.4h2.4v0.7h-2.4zM646 324.4h2.4v0.6h-2.4zM650 324.4h2.4v0.5h-2.4zM653 324.4h2.4v0.3h-2.4zM656 324.4h2.4v0.2h-2.4zM738 324.4h2.4v0.2h-2.4zM741 324.4h2.4v0.3h-2.4zM745 324.4h2.4v0.4h-2.4zM748 324.4h2.4v0.4h-2.4zM751 324.4h2.4v0.4h-2.4zM754 324.4h2.4v0.4h-2.4zM758 324.4h2.4v0.3h-2.4zM761 324.4h2.4v0.3h-2.4zM764 324.4h2.4v0.3h-2.4zM846 324.4h2.4v0.3h-2.4zM849 324.4h2.4v0.7h-2.4zM853 324.4h2.4v1.0h-2.4zM856 324.4h2.4v1.5h-2.4zM859 324.4h2.4v1.9h-2.4zM863 324.4h2.4v2.3h-2.4zM866 324.4h2.4v2.5h-2.4zM869 324.4h2.4v2.5h-2.4zM872 324.4h2.4v2.4h-2.4zM876 324.4h2.4v2.1h-2.4zM879 324.4h2.4v1.7h-2.4zM882 324.4h2.4v1.0h-2.4zM885 324.4h2.4v0.3h-2.4zM892 324.4h2.4v0.2h-2.4zM895 324.4h2.4v0.4h-2.4zM899 324.4h2.4v0.6h-2.4zM902 324.4h2.4v0.8h-2.4zM905 324.4h2.4v1.0h-2.4zM908 324.4h2.4v1.2h-2.4zM912 324.4h2.4v1.4h-2.4zM915 324.4h2.4v1.5h-2.4zM918 324.4h2.4v1.7h-2.4zM921 324.4h2.4v1.7h-2.4zM925 324.4h2.4v1.7h-2.4zM928 324.4h2.4v1.7h-2.4zM931 324.4h2.4v1.5h-2.4zM935 324.4h2.4v1.2h-2.4zM938 324.4h2.4v0.8h-2.4zM941 324.4h2.4v0.3h-2.4zM1049 324.4h2.4v0.2h-2.4zM1052 324.4h2.4v0.4h-2.4zM1056 324.4h2.4v0.7h-2.4zM1059 324.4h2.4v0.9h-2.4z" fill="#ff1a1a"/>
<path d="M3.1 325.1 L4.2 325.4 L5.2 325.8 L6.2 326.1 L7.2 326.3 L8.2 326.3 L9.2 326.3 L10.2 326.3 L11.2 326.3 L12.2 326.3 L13.2 326.3 L14.2 326.3 L15.2 326.3 L16.1 326.3 L17.1 326.3 L18.1 326.3 L19.1 326.3 L20.1 326.2 L21.1 326.2 L22.1 326.2 L23.1 326.2 L24.1 326.2 L25.1 326.2 L26.1 326.2 L27.1 326.1 L28.1 326.1 L29.1 326.1 L30.1 326.1 L31.1 326.1 L32.1 326.0 L33.1 326.0 L34.1 326.0 L35.1 326.0 L36.1 326.0 L37.1 325.9 L38.1 325.9 L39.1 325.9 L40.1 325.9 L41.1 325.8 L42.1 325.8 L43.1 325.8 L44.1 325.8 L45.1 325.7 L46.1 325.7 L47.1 325.7 L48.1 325.7 L49.1 325.6 L50.1 325.6 L51.1 325.6 L52.1 325.5 L53.1 325.5 L54.1 325.5 L55.1 325.5 L56.1 325.4 L57.1 325.4 L58.1 325.4 L59.1 325.4 L60.1 325.3 L61.1 325.3 L62.1 325.3 L63.1 325.3 L64.2 325.2 L65.2 325.2 L66.2 325.2 L67.2 325.2 L68.2 325.1 L69.2 325.1 L70.2 325.1 L71.2 325.1 L72.2 325.0 L73.2 325.0 L74.2 325.0 L75.2 325.0 L76.2 325.0 L77.2 324.9 L78.2 324.9 L79.2 324.9 L80.2 324.9 L81.2 324.9 L82.2 324.8 L83.2 324.8 L84.2 324.8 L85.2 324.8 L86.2 324.8 L87.2 324.8 L88.2 324.8 L89.2 324.8 L90.2 324.7 L91.2 324.7 L92.2 324.7 L93.2 324.7 L94.2 324.7 L95.2 324.7 L96.2 324.7 L97.2 324.7 L98.2 324.7 L99.2 324.7 L100.2 324.7 L101.2 324.7 L102.2 324.7 L103.2 324.7 L104.2 324.7 L105.2 324.7 L106.2 324.7 L107.2 324.7 L108.2 324.7 L109.2 324.7 L110.2 324.7 L111.2 324.7 L112.2 324.7 L113.2 324.7 L114.2 324.7 L115.2 324.7 L116.2 324.7 L117.2 324.7 L118.2 324.7 L119.2 324.7 L120.2 324.7 L121.2 324.7 L122.2 324.7 L123.2 324.7 L124.2 324.7 L125.2 324.7 L126.2 324.7 L127.2 324.6 L128.2 324.6 L129.2 324.5 L130.2 324.4 L131.2 324.3 L132.2 324.2 L133.2 324.1 L134.2 324.1 L135.2 324.1 L136.2 324.1 L137.2 324.1 L138.2 324.2 L139.2 324.2 L140.2 324.3 L141.2 324.4 L142.2 324.5 L143.2 324.6 L144.2 324.7 L145.2 324.8 L146.2 324.9 L147.2 324.9 L148.2 325.0 L149.2 325.0 L150.2 325.1 L151.2 325.1 L152.2 325.1 L153.2 325.0 L154.2 325.0 L155.2 325.0 L156.2 325.0 L157.2 324.9 L158.2 324.9 L159.2 324.9 L160.2 324.8 L161.2 324.8 L162.2 324.6 L163.2 324.4 L164.2 324.1 L165.2 323.8 L166.2 323.5 L167.2 323.2 L168.2 323.0 L169.2 322.7 L170.2 322.6 L171.2 322.5 L172.2 322.4 L173.2 322.3 L174.2 322.3 L175.2 322.2 L176.2 322.1 L177.2 322.1 L178.2 322.0 L179.2 322.0 L180.2 321.9 L181.2 321.9 L182.2 321.8 L183.2 321.8 L184.2 321.8 L185.2 321.7 L186.2 321.7 L187.2 321.6 L188.2 321.5 L189.2 321.5 L190.2 321.4 L191.2 321.3 L192.2 321.2 L193.2 321.1 L194.2 321.0 L195.2 320.9 L196.2 320.9 L197.2 320.8 L198.2 320.7 L199.2 320.7 L200.2 320.7 L201.2 320.7 L202.2 320.7 L203.2 320.8 L204.2 320.9 L205.2 321.0 L206.2 321.1 L207.2 321.2 L208.2 321.4 L209.2 321.5 L210.2 321.7 L211.2 321.8 L212.2 321.9 L213.2 321.9 L214.2 322.0 L215.2 322.0 L216.2 322.0 L217.2 322.0 L218.2 322.1 L219.2 322.1 L220.2 322.1 L221.2 322.2 L222.2 322.2 L223.2 322.2 L224.2 322.2 L225.2 322.2 L226.2 322.2 L227.2 322.3 L228.2 322.3 L229.2 322.3 L230.2 322.3 L231.2 322.3 L232.2 322.3 L233.2 322.4 L234.2 322.4 L235.2 322.4 L236.2 322.4 L237.2 322.4 L238.2 322.5 L239.2 322.5 L240.2 322.5 L241.2 322.5 L242.2 322.6 L243.2 322.6 L244.2 322.6 L245.2 322.6 L246.2 322.7 L247.2 322.7 L248.2 322.8 L249.2 322.8 L250.2 322.8 L251.2 322.9 L252.2 322.9 L253.2 323.0 L254.2 323.0 L255.2 323.1 L256.1 323.1 L257.1 323.1 L258.1 323.2 L259.1 323.2 L260.1 323.3 L261.1 323.3 L262.1 323.4 L263.1 323.4 L264.1 323.4 L265.1 323.5 L266.1 323.5 L267.1 323.6 L268.1 323.6 L269.1 323.6 L270.1 323.7 L271.1 323.7 L272.1 323.8 L273.1 323.8 L274.1 323.8 L275.1 323.9 L276.1 323.9 L277.1 324.0 L278.1 324.0 L279.1 324.0 L280.1 324.1 L281.1 324.1 L282.1 324.2 L283.1 324.2 L284.1 324.2 L285.1 324.3 L286.1 324.3 L287.1 324.3 L288.1 324.4 L289.1 324.4 L290.1 324.4 L291.1 324.4 L292.1 324.4 L293.1 324.4 L294.1 324.4 L295.1 324.4 L296.1 324.4 L297.1 324.4 L298.1 324.4 L299.1 324.4 L300.1 324.4 L301.1 324.4 L302.1 324.3 L303.1 324.3 L304.1 324.3 L305.1 324.3 L306.1 324.2 L307.1 324.2 L308.1 324.2 L309.1 324.2 L310.1 324.1 L311.1 324.1 L312.1 324.1 L313.1 324.1 L314.1 324.1 L315.1 324.1 L316.1 324.1 L317.1 324.1 L318.1 324.1 L319.1 324.1 L320.1 324.2 L321.1 324.2 L322.1 324.3 L323.1 324.5 L324.1 324.6 L325.1 324.7 L326.1 324.9 L327.1 325.0 L328.1 325.2 L329.1 325.3 L330.1 325.5 L331.1 325.6 L332.1 325.7 L333.1 325.8 L334.1 325.9 L335.1 325.9 L336.1 325.9 L337.1 325.9 L338.1 325.9 L339.1 325.9 L340.1 325.9 L341.1 325.9 L342.1 325.9 L343.1 325.9 L344.1 325.9 L345.1 325.9 L346.1 325.9 L347.1 325.9 L348.1 325.9 L349.1 325.9 L350.1 325.9 L351.1 325.9 L352.1 325.9 L353.1 325.9 L354.1 325.9 L355.1 325.9 L356.1 325.9 L357.1 325.9 L358.1 325.8 L359.1 325.7 L360.1 325.7 L361.1 325.7 L362.1 325.6 L363.1 325.6 L364.1 325.6 L365.1 325.6 L366.1 325.6 L367.1 325.6 L368.1 325.6 L369.1 325.6 L370.1 325.5 L371.1 325.5 L372.1 325.5 L373.1 325.5 L374.1 325.5 L375.1 325.5 L376.1 325.5 L377.1 325.5 L378.1 325.5 L379.1 325.5 L380.1 325.5 L381.1 325.5 L382.1 325.5 L383.1 325.4 L384.1 325.4 L385.1 325.4 L386.1 325.4 L387.1 325.4 L388.1 325.4 L389.1 325.4 L390.1 325.3 L391.1 325.3 L392.1 325.3 L393.1 325.3 L394.1 325.2 L395.1 325.1 L396.1 325.1 L397.1 325.0 L398.1 324.9 L399.1 324.8 L400.1 324.7 L401.1 324.6 L402.1 324.5 L403.1 324.4 L404.1 324.3 L405.1 324.2 L406.1 324.1 L407.1 324.0 L408.1 324.0 L409.1 323.9 L410.1 323.9 L411.1 323.8 L412.1 323.8 L413.1 323.8 L414.1 323.8 L415.1 323.8 L416.1 323.8 L417.1 323.9 L418.1 323.9 L419.1 323.9 L420.1 323.9 L421.1 324.0 L422.1 324.0 L423.1 324.0 L424.1 324.1 L425.1 324.1 L426.1 324.1 L427.1 324.2 L428.1 324.2 L429.1 324.2 L430.1 324.3 L431.1 324.3 L432.1 324.3 L433.1 324.4 L434.1 324.4 L435.1 324.4 L436.1 324.5 L437.1 324.5 L438.1 324.5 L439.1 324.5 L440.1 324.5 L441.1 324.5 L442.1 324.6 L443.1 324.6 L444.1 324.6 L445.1 324.6 L446.1 324.6 L447.1 324.6 L448.1 324.6 L449.1 324.7 L450.1 324.7 L451.1 324.7 L452.1 324.7 L453.1 324.8 L454.1 324.8 L455.1 324.8 L456.1 324.9 L457.1 325.0 L458.1 325.1 L459.1 325.2 L460.1 325.3 L461.1 325.4 L462.1 325.5 L463.1 325.6 L464.1 325.7 L465.1 325.8 L466.1 325.9 L467.1 326.1 L468.1 326.2 L469.1 326.3 L470.1 326.5 L471.1 326.6 L472.1 326.7 L473.1 326.8 L474.1 326.8 L475.1 326.8 L476.1 326.8 L477.1 326.8 L478.1 326.8 L479.1 326.8 L480.1 326.8 L481.1 326.8 L482.1 326.8 L483.1 326.8 L484.1 326.7 L485.1 326.7 L486.1 326.7 L487.1 326.7 L488.1 326.7 L489.1 326.6 L490.1 326.6 L491.1 326.6 L492.1 326.6 L493.1 326.6 L494.1 326.6 L495.1 326.6 L496.1 326.6 L497.1 326.6 L498.1 326.6 L499.1 326.6 L500.1 326.7 L501.1 326.7 L502.1 326.7 L503.1 326.8 L504.1 326.8 L505.1 326.9 L506.1 327.0 L507.1 327.3 L508.1 327.5 L509.1 327.9 L510.1 328.2 L511.1 328.6 L512.1 329.0 L513.1 329.3 L514.1 329.6 L515.1 330.0 L516.1 330.5 L517.1 331.0 L518.1 331.4 L519.1 331.8 L520.1 332.1 L521.1 332.4 L522.1 332.5 L523.1 332.6 L524.1 332.6 L525.1 332.6 L526.1 332.7 L527.1 332.7 L528.1 332.7 L529.1 332.8 L530.1 332.8 L531.1 332.8 L532.1 332.8 L533.1 332.8 L534.1 332.9 L535.1 332.9 L536.1 332.9 L537.1 332.9 L538.1 332.9 L539.1 332.9 L540.1 332.9 L541.1 332.8 L542.1 332.8 L543.1 332.7 L544.1 332.6 L545.1 332.5 L546.1 332.4 L547.1 332.3 L548.1 332.2 L549.1 332.1 L550.1 332.0 L551.1 331.9 L552.1 331.8 L553.1 331.6 L554.1 331.5 L555.1 331.3 L556.1 331.1 L557.1 330.9 L558.1 330.7 L559.1 330.5 L560.1 330.3 L561.1 330.2 L562.1 330.0 L563.1 329.8 L564.1 329.7 L565.1 329.5 L566.1 329.4 L567.1 329.2 L568.1 329.1 L569.1 328.9 L570.1 328.8 L571.1 328.7 L572.1 328.6 L573.1 328.4 L574.1 328.3 L575.1 328.2 L576.1 328.1 L577.1 328.0 L578.1 327.9 L579.1 327.8 L580.1 327.8 L581.1 327.7 L582.1 327.6 L583.1 327.5 L584.1 327.5 L585.1 327.4 L586.1 327.3 L587.1 327.3 L588.1 327.2 L589.1 327.2 L590.1 327.2 L591.1 327.2 L592.1 327.1 L593.1 327.1 L594.1 327.1 L595.1 327.1 L596.1 327.1 L597.1 327.0 L598.1 327.0 L599.1 327.0 L600.1 327.0 L601.1 327.0 L602.1 327.0 L603.1 326.9 L604.1 326.9 L605.1 326.9 L606.1 326.9 L607.1 326.8 L608.1 326.8 L609.1 326.8 L610.1 326.7 L611.1 326.7 L612.1 326.6 L613.1 326.6 L614.1 326.6 L615.1 326.5 L616.1 326.5 L617.1 326.5 L618.1 326.4 L619.1 326.4 L620.1 326.4 L621.1 326.3 L622.1 326.3 L623.1 326.3 L624.1 326.3 L625.1 326.3 L626.1 326.4 L627.1 326.4 L628.1 326.5 L629.1 326.5 L630.1 326.6 L631.1 326.7 L632.1 326.7 L633.1 326.8 L634.1 326.9 L635.1 327.0 L636.1 327.0 L637.1 327.1 L638.1 327.2 L639.1 327.2 L640.1 327.3 L641.1 327.3 L642.1 327.3 L643.1 327.3 L644.1 327.3 L645.1 327.3 L646.1 327.3 L647.1 327.2 L648.1 327.2 L649.1 327.2 L650.1 327.1 L651.1 327.0 L652.1 327.0 L653.1 326.9 L654.1 326.8 L655.1 326.8 L656.1 326.7 L657.1 326.6 L658.1 326.6 L659.1 326.5 L660.1 326.4 L661.1 326.4 L662.1 326.3 L663.1 326.2 L664.1 326.1 L665.1 326.1 L666.1 326.0 L667.1 325.9 L668.1 325.8 L669.1 325.7 L670.1 325.7 L671.1 325.6 L672.1 325.5 L673.1 325.4 L674.1 325.3 L675.1 325.2 L676.1 325.1 L677.1 325.1 L678.1 325.0 L679.1 324.9 L680.1 324.8 L681.1 324.8 L682.1 324.7 L683.1 324.6 L684.1 324.6 L685.1 324.5 L686.1 324.4 L687.1 324.4 L688.1 324.3 L689.1 324.2 L690.1 324.1 L691.1 324.1 L692.1 324.0 L693.1 324.0 L694.1 323.9 L695.1 323.9 L696.1 323.9 L697.1 323.8 L698.1 323.8 L699.1 323.8 L700.1 323.8 L701.1 323.8 L702.1 323.8 L703.1 323.8 L704.1 323.8 L705.1 323.8 L706.1 323.8 L707.1 323.8 L708.1 323.8 L709.1 323.8 L710.1 323.8 L711.1 323.8 L712.1 323.8 L713.1 323.8 L714.1 323.8 L715.1 323.8 L716.1 323.8 L717.1 323.8 L718.1 323.8 L719.1 323.8 L720.1 323.8 L721.1 323.8 L722.1 323.8 L723.1 323.8 L724.1 323.9 L725.1 323.9 L726.1 323.9 L727.1 323.9 L728.1 323.9 L729.1 323.9 L730.1 324.0 L731.1 324.0 L732.1 324.0 L733.1 324.1 L734.1 324.1 L735.1 324.1 L736.1 324.1 L737.1 324.2 L738.1 324.2 L739.1 324.3 L740.1 324.4 L741.1 324.5 L742.1 324.6 L743.1 324.7 L744.1 324.8 L745.1 324.8 L746.1 324.9 L747.1 324.9 L748.1 325.0 L749.1 325.0 L750.1 325.0 L751.1 325.1 L752.1 325.1 L753.1 325.1 L754.1 325.2 L755.1 325.2 L756.1 325.2 L757.1 325.2 L758.1 325.2 L759.1 325.3 L760.1 325.3 L761.1 325.3 L762.1 325.3 L763.1 325.3 L764.1 325.3 L765.1 325.3 L766.1 325.3 L767.1 325.2 L768.1 325.1 L769.1 324.8 L770.1 324.6 L771.1 324.2 L772.1 323.9 L773.1 323.5 L774.1 323.1 L775.1 322.8 L776.1 322.5 L777.1 322.2 L778.1 322.0 L779.1 321.8 L780.1 321.7 L781.1 321.6 L782.1 321.5 L783.1 321.4 L784.1 321.3 L785.1 321.2 L786.1 321.1 L787.1 321.1 L788.1 321.0 L789.1 320.9 L790.1 320.8 L791.1 320.8 L792.1 320.7 L793.1 320.6 L794.1 320.5 L795.1 320.3 L796.1 320.2 L797.1 320.1 L798.1 319.9 L799.1 319.6 L800.1 319.2 L801.1 318.8 L802.1 318.4 L803.1 317.9 L804.1 317.5 L805.1 317.0 L806.1 316.6 L807.1 316.2 L808.1 315.8 L809.1 315.5 L810.1 315.3 L811.1 315.2 L812.1 315.0 L813.1 314.8 L814.1 314.7 L815.1 314.5 L816.1 314.4 L817.1 314.3 L818.1 314.2 L819.1 314.1 L820.1 314.0 L821.1 313.9 L822.1 313.8 L823.1 313.8 L824.1 313.7 L825.1 313.7 L826.1 313.7 L827.1 313.8 L828.1 313.8 L829.1 313.8 L830.1 313.9 L831.1 313.9 L832.1 314.0 L833.1 314.0 L834.1 314.1 L835.1 314.2 L836.1 314.3 L837.1 314.4 L838.1 314.4 L839.1 314.5 L840.1 314.6 L841.1 314.7 L842.1 314.8 L843.1 314.9 L844.1 315.1 L845.1 315.2 L846.1 315.4 L847.1 315.6 L848.1 315.7 L849.1 315.9 L850.1 316.1 L851.1 316.3 L852.1 316.5 L853.1 316.7 L854.1 316.9 L855.1 317.1 L856.1 317.3 L857.1 317.6 L858.1 317.8 L859.1 318.0 L860.1 318.3 L861.1 318.5 L862.1 318.8 L863.1 319.0 L864.1 319.2 L865.1 319.4 L866.1 319.6 L867.1 319.7 L868.1 319.9 L869.1 320.1 L870.1 320.3 L871.1 320.4 L872.1 320.6 L873.1 320.8 L874.1 320.9 L875.1 321.0 L876.1 321.1 L877.1 321.2 L878.1 321.3 L879.1 321.3 L880.1 321.3 L881.1 321.2 L882.1 321.2 L883.1 321.1 L884.1 321.0 L885.1 320.9 L886.1 320.8 L887.1 320.7 L888.1 320.7 L889.1 320.7 L890.1 320.7 L891.1 320.7 L892.1 320.7 L893.1 320.8 L894.1 320.8 L895.1 320.8 L896.1 320.9 L897.1 321.0 L898.1 321.0 L899.1 321.1 L900.1 321.2 L901.1 321.3 L902.1 321.3 L903.1 321.4 L904.1 321.6 L905.1 321.7 L906.1 321.8 L907.1 322.0 L908.1 322.2 L909.1 322.3 L910.1 322.5 L911.1 322.7 L912.1 322.9 L913.1 323.0 L914.1 323.2 L915.1 323.3 L916.1 323.5 L917.1 323.6 L918.1 323.8 L919.1 324.0 L920.1 324.1 L921.1 324.3 L922.1 324.4 L923.1 324.6 L924.1 324.7 L925.1 324.9 L926.1 325.0 L927.1 325.1 L928.1 325.2 L929.1 325.3 L930.1 325.5 L931.1 325.6 L932.1 325.7 L933.1 325.8 L934.1 325.8 L935.1 325.9 L936.1 325.9 L937.1 325.9 L938.1 325.9 L939.1 325.8 L940.1 325.7 L941.1 325.5 L942.1 325.4 L943.1 325.2 L944.1 325.1 L945.1 325.1 L946.1 325.1 L947.1 325.1 L948.1 325.1 L949.1 325.1 L950.1 325.1 L951.1 325.1 L952.1 325.1 L953.1 325.1 L954.1 325.1 L955.1 325.1 L956.1 325.1 L957.1 325.1 L958.1 325.1 L959.1 325.1 L960.1 325.1 L961.1 325.1 L962.1 325.1 L963.1 325.1 L964.1 325.1 L965.1 325.1 L966.1 325.1 L967.1 325.0 L968.1 325.0 L969.1 325.0 L970.1 325.0 L971.1 324.9 L972.1 324.9 L973.1 324.9 L974.1 324.8 L975.1 324.8 L976.1 324.7 L977.1 324.7 L978.1 324.6 L979.1 324.5 L980.1 324.4 L981.1 324.2 L982.1 324.0 L983.1 323.8 L984.1 323.6 L985.1 323.4 L986.1 323.2 L987.1 323.1 L988.1 322.9 L989.1 322.8 L990.1 322.8 L991.1 322.7 L992.1 322.7 L993.1 322.6 L994.1 322.6 L995.1 322.6 L996.1 322.5 L997.1 322.5 L998.1 322.5 L999.1 322.4 L1000.1 322.4 L1001.1 322.4 L1002.1 322.3 L1003.1 322.2 L1004.1 322.1 L1005.1 322.0 L1006.1 321.9 L1007.1 321.8 L1008.1 321.7 L1009.1 321.6 L1010.1 321.6 L1011.1 321.5 L1012.1 321.5 L1013.1 321.5 L1014.1 321.5 L1015.1 321.5 L1016.1 321.5 L1017.1 321.5 L1018.1 321.5 L1019.1 321.5 L1020.1 321.5 L1021.1 321.5 L1022.1 321.5 L1023.1 321.5 L1024.2 321.5 L1025.2 321.5 L1026.2 321.5 L1027.2 321.5 L1028.2 321.5 L1029.2 321.5 L1030.2 321.5 L1031.2 321.5 L1032.2 321.5 L1033.2 321.5 L1034.2 321.5 L1035.2 321.5 L1036.2 321.5 L1037.2 321.5 L1038.2 321.5 L1039.2 321.5 L1040.2 321.5 L1041.2 321.5 L1042.2 321.5 L1043.2 321.5 L1044.2 321.5 L1045.2 321.5 L1046.2 321.5 L1047.2 321.6 L1048.2 321.6 L1049.2 321.7 L1050.2 321.8 L1051.2 321.9 L1052.2 322.0 L1053.2 322.1 L1054.2 322.2 L1055.2 322.4 L1056.2 322.5 L1057.2 322.7 L1058.2 322.8 L1059.2 322.9 L1060.2 323.1 L1061.2 323.2 L1062.2 323.3 L1063.2 323.5 L1063.5 323.5" fill="none" stroke="#1f3cff" stroke-width="1.05"/>
<path d="M3.1 323.2 L4.2 323.7 L5.2 324.2 L6.2 324.7 L7.2 325.0 L8.2 325.1 L9.2 325.1 L10.2 325.1 L11.2 325.1 L12.2 325.1 L13.2 325.1 L14.2 325.1 L15.2 325.1 L16.1 325.1 L17.1 325.1 L18.1 325.1 L19.1 325.0 L20.1 325.0 L21.1 325.0 L22.1 325.0 L23.1 325.0 L24.1 325.0 L25.1 325.0 L26.1 325.0 L27.1 325.0 L28.1 325.0 L29.1 325.0 L30.1 325.0 L31.1 325.0 L32.1 325.0 L33.1 325.0 L34.1 325.0 L35.1 325.0 L36.1 325.0 L37.1 325.0 L38.1 325.0 L39.1 325.0 L40.1 325.0 L41.1 325.0 L42.1 324.9 L43.1 324.9 L44.1 324.9 L45.1 324.9 L46.1 324.9 L47.1 324.9 L48.1 324.9 L49.1 324.9 L50.1 324.9 L51.1 324.9 L52.1 324.9 L53.1 324.9 L54.1 324.9 L55.1 324.9 L56.1 324.9 L57.1 324.9 L58.1 324.9 L59.1 324.8 L60.1 324.8 L61.1 324.8 L62.1 324.8 L63.1 324.8 L64.2 324.8 L65.2 324.8 L66.2 324.8 L67.2 324.8 L68.2 324.8 L69.2 324.8 L70.2 324.8 L71.2 324.8 L72.2 324.8 L73.2 324.8 L74.2 324.8 L75.2 324.8 L76.2 324.8 L77.2 324.7 L78.2 324.7 L79.2 324.7 L80.2 324.7 L81.2 324.7 L82.2 324.7 L83.2 324.7 L84.2 324.7 L85.2 324.7 L86.2 324.7 L87.2 324.7 L88.2 324.7 L89.2 324.7 L90.2 324.7 L91.2 324.7 L92.2 324.7 L93.2 324.7 L94.2 324.7 L95.2 324.7 L96.2 324.7 L97.2 324.7 L98.2 324.7 L99.2 324.7 L100.2 324.7 L101.2 324.7 L102.2 324.7 L103.2 324.7 L104.2 324.7 L105.2 324.7 L106.2 324.7 L107.2 324.7 L108.2 324.7 L109.2 324.7 L110.2 324.7 L111.2 324.7 L112.2 324.7 L113.2 324.7 L114.2 324.7 L115.2 324.7 L116.2 324.7 L117.2 324.7 L118.2 324.7 L119.2 324.7 L120.2 324.7 L121.2 324.7 L122.2 324.7 L123.2 324.7 L124.2 324.7 L125.2 324.7 L126.2 324.7 L127.2 324.7 L128.2 324.6 L129.2 324.6 L130.2 324.5 L131.2 324.4 L132.2 324.4 L133.2 324.4 L134.2 324.3 L135.2 324.3 L136.2 324.3 L137.2 324.3 L138.2 324.3 L139.2 324.4 L140.2 324.4 L141.2 324.4 L142.2 324.5 L143.2 324.5 L144.2 324.5 L145.2 324.6 L146.2 324.6 L147.2 324.6 L148.2 324.7 L149.2 324.7 L150.2 324.7 L151.2 324.7 L152.2 324.7 L153.2 324.7 L154.2 324.7 L155.2 324.7 L156.2 324.7 L157.2 324.7 L158.2 324.7 L159.2 324.7 L160.2 324.7 L161.2 324.7 L162.2 324.6 L163.2 324.6 L164.2 324.5 L165.2 324.4 L166.2 324.3 L167.2 324.2 L168.2 324.0 L169.2 323.9 L170.2 323.8 L171.2 323.8 L172.2 323.7 L173.2 323.6 L174.2 323.5 L175.2 323.5 L176.2 323.4 L177.2 323.3 L178.2 323.2 L179.2 323.2 L180.2 323.1 L181.2 323.0 L182.2 323.0 L183.2 322.9 L184.2 322.8 L185.2 322.8 L186.2 322.7 L187.2 322.6 L188.2 322.5 L189.2 322.5 L190.2 322.4 L191.2 322.3 L192.2 322.2 L193.2 322.1 L194.2 322.0 L195.2 322.0 L196.2 321.9 L197.2 321.8 L198.2 321.8 L199.2 321.7 L200.2 321.7 L201.2 321.7 L202.2 321.6 L203.2 321.6 L204.2 321.6 L205.2 321.6 L206.2 321.6 L207.2 321.6 L208.2 321.6 L209.2 321.6 L210.2 321.6 L211.2 321.5 L212.2 321.5 L213.2 321.5 L214.2 321.5 L215.2 321.5 L216.2 321.6 L217.2 321.6 L218.2 321.6 L219.2 321.6 L220.2 321.6 L221.2 321.6 L222.2 321.6 L223.2 321.6 L224.2 321.7 L225.2 321.7 L226.2 321.7 L227.2 321.7 L228.2 321.8 L229.2 321.8 L230.2 321.8 L231.2 321.8 L232.2 321.9 L233.2 321.9 L234.2 321.9 L235.2 322.0 L236.2 322.0 L237.2 322.0 L238.2 322.1 L239.2 322.1 L240.2 322.1 L241.2 322.1 L242.2 322.2 L243.2 322.2 L244.2 322.2 L245.2 322.3 L246.2 322.3 L247.2 322.4 L248.2 322.4 L249.2 322.4 L250.2 322.5 L251.2 322.5 L252.2 322.6 L253.2 322.6 L254.2 322.7 L255.2 322.7 L256.1 322.8 L257.1 322.8 L258.1 322.9 L259.1 323.0 L260.1 323.0 L261.1 323.1 L262.1 323.1 L263.1 323.2 L264.1 323.2 L265.1 323.3 L266.1 323.3 L267.1 323.4 L268.1 323.4 L269.1 323.5 L270.1 323.5 L271.1 323.6 L272.1 323.6 L273.1 323.6 L274.1 323.7 L275.1 323.7 L276.1 323.7 L277.1 323.8 L278.1 323.8 L279.1 323.8 L280.1 323.8 L281.1 323.8 L282.1 323.8 L283.1 323.9 L284.1 323.9 L285.1 323.9 L286.1 323.9 L287.1 323.9 L288.1 323.9 L289.1 323.9 L290.1 323.9 L291.1 323.9 L292.1 323.9 L293.1 324.0 L294.1 324.0 L295.1 324.0 L296.1 324.0 L297.1 324.0 L298.1 324.0 L299.1 324.0 L300.1 324.0 L301.1 324.0 L302.1 324.0 L303.1 324.0 L304.1 324.0 L305.1 324.0 L306.1 324.0 L307.1 324.1 L308.1 324.1 L309.1 324.1 L310.1 324.1 L311.1 324.1 L312.1 324.1 L313.1 324.1 L314.1 324.1 L315.1 324.1 L316.1 324.2 L317.1 324.2 L318.1 324.2 L319.1 324.2 L320.1 324.3 L321.1 324.3 L322.1 324.3 L323.1 324.4 L324.1 324.4 L325.1 324.5 L326.1 324.5 L327.1 324.6 L328.1 324.6 L329.1 324.7 L330.1 324.8 L331.1 324.8 L332.1 324.9 L333.1 324.9 L334.1 325.0 L335.1 325.0 L336.1 325.1 L337.1 325.1 L338.1 325.1 L339.1 325.2 L340.1 325.2 L341.1 325.3 L342.1 325.3 L343.1 325.4 L344.1 325.4 L345.1 325.4 L346.1 325.5 L347.1 325.5 L348.1 325.6 L349.1 325.6 L350.1 325.6 L351.1 325.6 L352.1 325.7 L353.1 325.7 L354.1 325.7 L355.1 325.7 L356.1 325.7 L357.1 325.7 L358.1 325.6 L359.1 325.6 L360.1 325.6 L361.1 325.6 L362.1 325.5 L363.1 325.5 L364.1 325.5 L365.1 325.5 L366.1 325.5 L367.1 325.5 L368.1 325.5 L369.1 325.5 L370.1 325.5 L371.1 325.5 L372.1 325.5 L373.1 325.5 L374.1 325.5 L375.1 325.4 L376.1 325.4 L377.1 325.4 L378.1 325.4 L379.1 325.4 L380.1 325.4 L381.1 325.4 L382.1 325.4 L383.1 325.4 L384.1 325.4 L385.1 325.4 L386.1 325.4 L387.1 325.4 L388.1 325.4 L389.1 325.3 L390.1 325.3 L391.1 325.3 L392.1 325.3 L393.1 325.3 L394.1 325.2 L395.1 325.2 L396.1 325.1 L397.1 325.1 L398.1 325.0 L399.1 324.9 L400.1 324.8 L401.1 324.7 L402.1 324.7 L403.1 324.6 L404.1 324.5 L405.1 324.4 L406.1 324.3 L407.1 324.3 L408.1 324.2 L409.1 324.2 L410.1 324.1 L411.1 324.1 L412.1 324.1 L413.1 324.1 L414.1 324.1 L415.1 324.1 L416.1 324.1 L417.1 324.1 L418.1 324.1 L419.1 324.1 L420.1 324.1 L421.1 324.2 L422.1 324.2 L423.1 324.2 L424.1 324.2 L425.1 324.2 L426.1 324.3 L427.1 324.3 L428.1 324.3 L429.1 324.3 L430.1 324.4 L431.1 324.4 L432.1 324.4 L433.1 324.4 L434.1 324.4 L435.1 324.4 L436.1 324.4 L437.1 324.4 L438.1 324.5 L439.1 324.5 L440.1 324.5 L441.1 324.5 L442.1 324.5 L443.1 324.5 L444.1 324.5 L445.1 324.5 L446.1 324.5 L447.1 324.5 L448.1 324.5 L449.1 324.5 L450.1 324.5 L451.1 324.5 L452.1 324.5 L453.1 324.5 L454.1 324.6 L455.1 324.6 L456.1 324.6 L457.1 324.7 L458.1 324.8 L459.1 324.9 L460.1 325.0 L461.1 325.1 L462.1 325.2 L463.1 325.2 L464.1 325.3 L465.1 325.3 L466.1 325.3 L467.1 325.4 L468.1 325.4 L469.1 325.4 L470.1 325.5 L471.1 325.5 L472.1 325.5 L473.1 325.5 L474.1 325.6 L475.1 325.6 L476.1 325.6 L477.1 325.6 L478.1 325.6 L479.1 325.6 L480.1 325.7 L481.1 325.7 L482.1 325.7 L483.1 325.7 L484.1 325.7 L485.1 325.8 L486.1 325.8 L487.1 325.8 L488.1 325.8 L489.1 325.8 L490.1 325.9 L491.1 325.9 L492.1 325.9 L493.1 325.9 L494.1 326.0 L495.1 326.0 L496.1 326.0 L497.1 326.1 L498.1 326.1 L499.1 326.1 L500.1 326.2 L501.1 326.2 L502.1 326.3 L503.1 326.4 L504.1 326.4 L505.1 326.5 L506.1 326.6 L507.1 326.7 L508.1 326.8 L509.1 326.9 L510.1 327.1 L511.1 327.2 L512.1 327.3 L513.1 327.4 L514.1 327.6 L515.1 327.8 L516.1 328.0 L517.1 328.2 L518.1 328.4 L519.1 328.7 L520.1 328.9 L521.1 329.2 L522.1 329.4 L523.1 329.7 L524.1 329.9 L525.1 330.1 L526.1 330.3 L527.1 330.4 L528.1 330.6 L529.1 330.8 L530.1 331.0 L531.1 331.2 L532.1 331.3 L533.1 331.5 L534.1 331.7 L535.1 331.8 L536.1 331.9 L537.1 332.0 L538.1 332.1 L539.1 332.2 L540.1 332.2 L541.1 332.3 L542.1 332.3 L543.1 332.2 L544.1 332.2 L545.1 332.2 L546.1 332.2 L547.1 332.2 L548.1 332.2 L549.1 332.2 L550.1 332.2 L551.1 332.1 L552.1 332.1 L553.1 332.0 L554.1 331.9 L555.1 331.8 L556.1 331.7 L557.1 331.6 L558.1 331.4 L559.1 331.3 L560.1 331.1 L561.1 331.0 L562.1 330.8 L563.1 330.7 L564.1 330.6 L565.1 330.4 L566.1 330.3 L567.1 330.2 L568.1 330.0 L569.1 329.9 L570.1 329.7 L571.1 329.6 L572.1 329.5 L573.1 329.3 L574.1 329.2 L575.1 329.1 L576.1 329.0 L577.1 328.9 L578.1 328.8 L579.1 328.7 L580.1 328.7 L581.1 328.6 L582.1 328.5 L583.1 328.5 L584.1 328.4 L585.1 328.3 L586.1 328.3 L587.1 328.2 L588.1 328.1 L589.1 328.1 L590.1 328.0 L591.1 328.0 L592.1 327.9 L593.1 327.9 L594.1 327.8 L595.1 327.8 L596.1 327.7 L597.1 327.7 L598.1 327.6 L599.1 327.6 L600.1 327.5 L601.1 327.5 L602.1 327.5 L603.1 327.4 L604.1 327.4 L605.1 327.3 L606.1 327.3 L607.1 327.2 L608.1 327.2 L609.1 327.1 L610.1 327.1 L611.1 327.0 L612.1 327.0 L613.1 326.9 L614.1 326.9 L615.1 326.8 L616.1 326.8 L617.1 326.7 L618.1 326.7 L619.1 326.7 L620.1 326.6 L621.1 326.6 L622.1 326.6 L623.1 326.6 L624.1 326.6 L625.1 326.6 L626.1 326.6 L627.1 326.6 L628.1 326.6 L629.1 326.6 L630.1 326.6 L631.1 326.6 L632.1 326.6 L633.1 326.6 L634.1 326.6 L635.1 326.7 L636.1 326.7 L637.1 326.7 L638.1 326.7 L639.1 326.7 L640.1 326.7 L641.1 326.7 L642.1 326.7 L643.1 326.7 L644.1 326.7 L645.1 326.7 L646.1 326.7 L647.1 326.7 L648.1 326.7 L649.1 326.6 L650.1 326.6 L651.1 326.6 L652.1 326.6 L653.1 326.6 L654.1 326.5 L655.1 326.5 L656.1 326.5 L657.1 326.5 L658.1 326.4 L659.1 326.4 L660.1 326.4 L661.1 326.3 L662.1 326.3 L663.1 326.3 L664.1 326.2 L665.1 326.2 L666.1 326.2 L667.1 326.1 L668.1 326.1 L669.1 326.0 L670.1 325.9 L671.1 325.9 L672.1 325.8 L673.1 325.8 L674.1 325.7 L675.1 325.6 L676.1 325.6 L677.1 325.5 L678.1 325.5 L679.1 325.4 L680.1 325.3 L681.1 325.3 L682.1 325.2 L683.1 325.1 L684.1 325.1 L685.1 325.0 L686.1 324.9 L687.1 324.8 L688.1 324.7 L689.1 324.7 L690.1 324.6 L691.1 324.5 L692.1 324.4 L693.1 324.4 L694.1 324.3 L695.1 324.2 L696.1 324.2 L697.1 324.1 L698.1 324.1 L699.1 324.1 L700.1 324.0 L701.1 324.0 L702.1 324.0 L703.1 324.0 L704.1 324.0 L705.1 323.9 L706.1 323.9 L707.1 323.9 L708.1 323.9 L709.1 323.9 L710.1 323.9 L711.1 323.9 L712.1 323.8 L713.1 323.8 L714.1 323.8 L715.1 323.8 L716.1 323.8 L717.1 323.8 L718.1 323.8 L719.1 323.8 L720.1 323.8 L721.1 323.8 L722.1 323.8 L723.1 323.8 L724.1 323.8 L725.1 323.8 L726.1 323.9 L727.1 323.9 L728.1 323.9 L729.1 323.9 L730.1 323.9 L731.1 323.9 L732.1 324.0 L733.1 324.0 L734.1 324.0 L735.1 324.0 L736.1 324.0 L737.1 324.1 L738.1 324.1 L739.1 324.1 L740.1 324.2 L741.1 324.2 L742.1 324.3 L743.1 324.4 L744.1 324.4 L745.1 324.5 L746.1 324.5 L747.1 324.6 L748.1 324.6 L749.1 324.6 L750.1 324.7 L751.1 324.7 L752.1 324.8 L753.1 324.8 L754.1 324.8 L755.1 324.9 L756.1 324.9 L757.1 324.9 L758.1 324.9 L759.1 325.0 L760.1 325.0 L761.1 325.0 L762.1 325.0 L763.1 325.0 L764.1 325.1 L765.1 325.1 L766.1 325.1 L767.1 325.0 L768.1 324.9 L769.1 324.8 L770.1 324.7 L771.1 324.5 L772.1 324.3 L773.1 324.1 L774.1 323.9 L775.1 323.7 L776.1 323.5 L777.1 323.4 L778.1 323.2 L779.1 323.1 L780.1 323.0 L781.1 322.9 L782.1 322.8 L783.1 322.7 L784.1 322.6 L785.1 322.5 L786.1 322.4 L787.1 322.3 L788.1 322.3 L789.1 322.2 L790.1 322.1 L791.1 322.0 L792.1 321.9 L793.1 321.8 L794.1 321.7 L795.1 321.6 L796.1 321.5 L797.1 321.3 L798.1 321.2 L799.1 321.0 L800.1 320.8 L801.1 320.6 L802.1 320.4 L803.1 320.1 L804.1 319.9 L805.1 319.6 L806.1 319.4 L807.1 319.1 L808.1 318.9 L809.1 318.7 L810.1 318.5 L811.1 318.3 L812.1 318.0 L813.1 317.8 L814.1 317.6 L815.1 317.3 L816.1 317.1 L817.1 316.8 L818.1 316.6 L819.1 316.3 L820.1 316.1 L821.1 315.9 L822.1 315.7 L823.1 315.5 L824.1 315.4 L825.1 315.2 L826.1 315.1 L827.1 315.0 L828.1 315.0 L829.1 315.0 L830.1 315.0 L831.1 315.0 L832.1 315.0 L833.1 315.0 L834.1 315.0 L835.1 315.0 L836.1 315.0 L837.1 315.0 L838.1 315.0 L839.1 315.0 L840.1 315.0 L841.1 315.0 L842.1 315.0 L843.1 315.0 L844.1 315.1 L845.1 315.1 L846.1 315.2 L847.1 315.3 L848.1 315.4 L849.1 315.5 L850.1 315.6 L851.1 315.7 L852.1 315.8 L853.1 315.9 L854.1 316.0 L855.1 316.1 L856.1 316.2 L857.1 316.3 L858.1 316.4 L859.1 316.6 L860.1 316.7 L861.1 316.8 L862.1 316.9 L863.1 317.0 L864.1 317.2 L865.1 317.3 L866.1 317.5 L867.1 317.6 L868.1 317.8 L869.1 317.9 L870.1 318.1 L871.1 318.3 L872.1 318.5 L873.1 318.7 L874.1 318.9 L875.1 319.0 L876.1 319.2 L877.1 319.4 L878.1 319.5 L879.1 319.6 L880.1 319.8 L881.1 319.9 L882.1 320.0 L883.1 320.1 L884.1 320.2 L885.1 320.3 L886.1 320.4 L887.1 320.5 L888.1 320.5 L889.1 320.5 L890.1 320.6 L891.1 320.6 L892.1 320.6 L893.1 320.6 L894.1 320.6 L895.1 320.6 L896.1 320.6 L897.1 320.6 L898.1 320.6 L899.1 320.6 L900.1 320.6 L901.1 320.7 L902.1 320.7 L903.1 320.7 L904.1 320.8 L905.1 320.9 L906.1 321.0 L907.1 321.1 L908.1 321.2 L909.1 321.3 L910.1 321.4 L911.1 321.5 L912.1 321.7 L913.1 321.8 L914.1 321.9 L915.1 322.0 L916.1 322.2 L917.1 322.3 L918.1 322.4 L919.1 322.5 L920.1 322.7 L921.1 322.8 L922.1 322.9 L923.1 323.1 L924.1 323.2 L925.1 323.3 L926.1 323.5 L927.1 323.6 L928.1 323.7 L929.1 323.9 L930.1 324.0 L931.1 324.2 L932.1 324.4 L933.1 324.5 L934.1 324.7 L935.1 324.8 L936.1 324.9 L937.1 325.0 L938.1 325.0 L939.1 325.1 L940.1 325.1 L941.1 325.1 L942.1 325.1 L943.1 325.1 L944.1 325.1 L945.1 325.1 L946.1 325.1 L947.1 325.1 L948.1 325.1 L949.1 325.1 L950.1 325.1 L951.1 325.1 L952.1 325.1 L953.1 325.1 L954.1 325.1 L955.1 325.1 L956.1 325.1 L957.1 325.1 L958.1 325.1 L959.1 325.1 L960.1 325.2 L961.1 325.2 L962.1 325.2 L963.1 325.2 L964.1 325.2 L965.1 325.3 L966.1 325.3 L967.1 325.3 L968.1 325.3 L969.1 325.3 L970.1 325.3 L971.1 325.3 L972.1 325.3 L973.1 325.2 L974.1 325.2 L975.1 325.1 L976.1 325.0 L977.1 324.9 L978.1 324.8 L979.1 324.6 L980.1 324.5 L981.1 324.4 L982.1 324.3 L983.1 324.2 L984.1 324.1 L985.1 324.0 L986.1 324.0 L987.1 323.9 L988.1 323.8 L989.1 323.7 L990.1 323.6 L991.1 323.6 L992.1 323.5 L993.1 323.4 L994.1 323.3 L995.1 323.2 L996.1 323.2 L997.1 323.1 L998.1 323.0 L999.1 322.9 L1000.1 322.9 L1001.1 322.8 L1002.1 322.7 L1003.1 322.6 L1004.1 322.5 L1005.1 322.5 L1006.1 322.4 L1007.1 322.4 L1008.1 322.3 L1009.1 322.3 L1010.1 322.2 L1011.1 322.2 L1012.1 322.2 L1013.1 322.1 L1014.1 322.1 L1015.1 322.1 L1016.1 322.0 L1017.1 322.0 L1018.1 322.0 L1019.1 321.9 L1020.1 321.9 L1021.1 321.9 L1022.1 321.8 L1023.1 321.8 L1024.2 321.8 L1025.2 321.8 L1026.2 321.8 L1027.2 321.7 L1028.2 321.7 L1029.2 321.7 L1030.2 321.7 L1031.2 321.7 L1032.2 321.6 L1033.2 321.6 L1034.2 321.6 L1035.2 321.6 L1036.2 321.6 L1037.2 321.6 L1038.2 321.6 L1039.2 321.5 L1040.2 321.5 L1041.2 321.5 L1042.2 321.5 L1043.2 321.5 L1044.2 321.5 L1045.2 321.5 L1046.2 321.5 L1047.2 321.5 L1048.2 321.6 L1049.2 321.6 L1050.2 321.6 L1051.2 321.7 L1052.2 321.7 L1053.2 321.8 L1054.2 321.9 L1055.2 321.9 L1056.2 322.0 L1057.2 322.1 L1058.2 322.2 L1059.2 322.2 L1060.2 322.3 L1061.2 322.4 L1062.2 322.4 L1063.2 322.5 L1063.5 322.5" fill="none" stroke="#ee6a12" stroke-width="1.05"/>
</g>
<g id="rsiseries">
<rect x="4" y="345.3" width="1060" height="9.2" fill="#7dfb7d"/>
<rect x="4" y="368.6" width="1060" height="9.9" fill="#ff7c7c"/>
<path d="M4 354.5H1064M4 368.5H1064" stroke="#000" stroke-width="0.8" stroke-dasharray="2 1" fill="none" opacity="0.9"/>
<path d="M4.3 345.3V354.5M1063.7 345.3V354.5M4.3 368.6V378.5M1063.7 368.6V378.5" stroke="#000" stroke-width="1" fill="none" opacity="0.8"/>
<rect x="294.0" y="344" width="1" height="35" fill="#000" opacity="0.07"/>
<rect x="608.0" y="344" width="1" height="35" fill="#000" opacity="0.07"/>
<rect x="922.0" y="344" width="1" height="35" fill="#000" opacity="0.07"/>
<g clip-path="url(#cr)"><path d="M3.1 365.0 L6.3 365.8 L11.3 365.0 L16.4 362.1 L37.8 362.1 L44.1 364.0 L55.4 365.0 L69.2 363.3 L78.0 364.6 L88.1 363.3 L99.5 361.7 L105.1 361.4 L109.5 360.2 L117.1 361.7 L123.4 360.8 L129.7 358.9 L135.3 360.8 L142.0 364.6 L147.0 366.5 L150.2 366.1 L154.0 363.3 L157.1 363.3 L160.9 359.5 L166.6 354.1 L169.7 356.7 L172.8 356.1 L177.2 358.3 L186.1 356.1 L189.8 357.7 L199.3 355.1 L204.9 358.3 L208.7 359.2 L214.4 362.4 L219.4 358.3 L225.1 357.4 L228.9 359.2 L232.0 358.5 L235.2 359.3 L240.2 359.2 L244.6 360.2 L249.0 362.3 L252.8 361.4 L256.6 361.2 L259.7 360.4 L262.2 360.8 L265.4 362.9 L268.5 361.7 L272.9 361.4 L278.6 359.2 L281.1 359.3 L284.0 361.4 L290.9 363.3 L294.7 362.1 L297.9 362.7 L304.1 360.8 L307.3 358.7 L310.4 361.2 L315.5 360.8 L320.5 364.0 L327.4 367.1 L335.6 364.6 L340.0 366.5 L343.8 364.6 L349.5 364.2 L353.9 362.4 L359.5 364.6 L363.3 364.3 L367.1 362.9 L372.1 362.9 L376.5 364.6 L380.3 363.6 L386.0 364.0 L389.5 367.5 L393.5 362.1 L397.3 360.2 L404.9 360.6 L409.9 357.7 L412.4 357.7 L415.6 360.2 L418.7 360.2 L422.5 362.1 L426.0 361.4 L431.0 362.3 L435.4 361.8 L438.6 363.3 L441.7 360.6 L448.0 361.4 L454.3 365.2 L458.1 362.4 L462.5 365.8 L465.6 366.7 L468.8 366.5 L473.2 367.5 L477.6 368.4 L483.9 365.2 L487.1 366.2 L490.8 363.7 L494.0 363.3 L497.8 361.1 L500.9 362.1 L505.3 368.0 L507.8 369.6 L512.9 370.2 L519.2 373.4 L524.2 370.2 L529.9 368.0 L534.3 368.7 L539.9 369.2 L546.9 368.4 L553.1 365.5 L559.4 365.8 L562.6 362.4 L565.7 364.3 L568.0 364.6 L574.3 362.7 L580.6 362.4 L583.1 362.9 L585.6 362.4 L590.0 364.6 L595.1 365.6 L598.8 364.2 L602.2 362.1 L605.4 364.2 L608.5 361.7 L614.6 362.1 L619.6 363.7 L624.6 364.6 L628.4 362.9 L630.9 363.3 L635.4 366.7 L641.0 367.4 L644.8 365.2 L647.9 363.3 L651.1 363.7 L654.2 362.4 L657.4 361.7 L661.2 363.7 L667.5 361.2 L671.2 362.4 L676.9 361.4 L680.7 358.3 L683.8 359.5 L690.1 359.2 L693.9 357.7 L697.0 358.9 L700.8 361.1 L706.5 359.5 L710.0 360.4 L713.1 360.6 L716.9 361.4 L723.2 359.5 L726.4 360.6 L730.1 362.3 L733.3 361.4 L735.8 362.1 L739.6 364.6 L742.7 364.6 L746.3 365.5 L749.6 362.9 L752.8 364.2 L756.0 364.6 L759.1 366.5 L762.9 363.7 L765.4 363.1 L768.5 358.9 L772.3 354.1 L775.5 353.6 L779.2 356.1 L785.5 355.1 L789.3 354.5 L792.5 355.4 L798.1 354.5 L802.5 350.7 L808.2 350.1 L811.3 350.4 L815.5 353.6 L820.8 351.6 L824.6 353.6 L828.3 353.5 L831.5 355.4 L837.1 354.3 L840.9 355.4 L844.1 355.8 L847.9 357.4 L852.0 355.4 L857.0 358.3 L863.3 359.5 L867.7 361.2 L872.1 360.2 L877.2 358.5 L880.7 359.5 L887.2 356.4 L889.8 356.4 L894.2 357.9 L898.0 357.7 L903.6 360.6 L906.1 360.6 L911.2 362.4 L916.2 363.6 L919.4 362.1 L922.5 364.2 L926.3 365.2 L929.4 366.5 L932.6 365.0 L935.7 365.2 L939.5 361.7 L942.6 361.7 L945.8 361.1 L949.6 363.1 L952.7 362.1 L955.9 362.4 L959.0 361.1 L963.8 362.9 L968.2 363.7 L972.0 361.4 L975.7 362.1 L978.9 359.5 L982.0 357.0 L985.2 356.7 L989.0 359.3 L994.6 358.0 L997.8 359.2 L1001.3 360.4 L1004.7 357.3 L1010.4 356.7 L1014.8 358.3 L1021.0 358.5 L1027.3 357.7 L1031.1 359.5 L1034.3 359.5 L1037.4 361.4 L1041.8 361.2 L1046.9 360.4 L1050.0 361.4 L1053.8 359.8 L1056.9 358.3 L1060.7 359.2 L1063.9 359.5" fill="none" stroke="#1f3cff" stroke-width="1.05" stroke-linejoin="round"/></g>
</g>
<rect x="524" y="306.1" width="20" height="0.9" fill="#555"/>
<rect x="524" y="308.2" width="20" height="0.9" fill="#555"/>
<rect x="524" y="310.3" width="20" height="0.9" fill="#555"/>
<rect x="524" y="337.1" width="20" height="0.9" fill="#555"/>
<rect x="524" y="339.2" width="20" height="0.9" fill="#555"/>
<rect x="524" y="341.3" width="20" height="0.9" fill="#555"/>
<g id="yaxis">
<rect x="1067" y="33.5" width="5" height="1.2" fill="#999"/>
<text class="ax" x="1074" y="38.0">97.5000</text>
<rect x="1067" y="58.9" width="5" height="1.2" fill="#999"/>
<text class="ax" x="1074" y="63.4">95.0000</text>
<rect x="1067" y="84.3" width="5" height="1.2" fill="#999"/>
<text class="ax" x="1074" y="88.8">92.5000</text>
<rect x="1067" y="109.7" width="5" height="1.2" fill="#999"/>
<text class="ax" x="1074" y="114.2">90.0000</text>
<rect x="1067" y="135.2" width="5" height="1.2" fill="#999"/>
<text class="ax" x="1074" y="139.7">87.5000</text>
<rect x="1067" y="160.6" width="5" height="1.2" fill="#999"/>
<text class="ax" x="1074" y="165.1">85.0000</text>
<rect x="1067" y="186.0" width="5" height="1.2" fill="#999"/>
<text class="ax" x="1074" y="190.5">82.5000</text>
<rect x="1067" y="211.4" width="5" height="1.2" fill="#999"/>
<text class="ax" x="1074" y="215.9">80.0000</text>
<rect x="1067" y="236.8" width="5" height="1.2" fill="#999"/>
<text class="ax" x="1074" y="241.3">77.5000</text>
<rect x="1067" y="262.2" width="5" height="1.2" fill="#999"/>
<text class="ax" x="1074" y="266.7">75.0000</text>
<rect x="1067" y="287.6" width="5" height="1.2" fill="#999"/>
<text class="ax" x="1074" y="292.1">72.5000</text>
<rect x="1067" y="324.1" width="5" height="1.2" fill="#999"/>
<text class="ax" x="1074" y="328.8">-0.0000</text>
<rect x="1067" y="377.4" width="5" height="1.2" fill="#999"/>
<text class="ax" x="1074" y="381.9">0.0000</text>
</g>
<g id="tag"><path d="M1063.5 81 L1070 74 H1130 V88 H1070 Z" fill="#2b4a73"/>
<text class="tg" x="1074" y="85.2">92.878400</text></g>
<g id="xaxis">
<rect x="3.5" y="380" width="1" height="2" fill="#666"/>
<text class="ax" x="3.4" y="395.7">Mon</text>
<rect x="42.0" y="380" width="1" height="2" fill="#666"/>
<text class="ax" x="42.5" y="395.7" text-anchor="middle">04:45</text>
<rect x="81.3" y="380" width="1" height="2" fill="#666"/>
<text class="ax" x="81.8" y="395.7" text-anchor="middle">07:45</text>
<rect x="120.5" y="380" width="1" height="2" fill="#666"/>
<text class="ax" x="121.0" y="395.7" text-anchor="middle">10:45</text>
<rect x="159.8" y="380" width="1" height="2" fill="#666"/>
<text class="ax" x="160.3" y="395.7" text-anchor="middle">13:45</text>
<rect x="199.0" y="380" width="1" height="2" fill="#666"/>
<text class="ax" x="199.5" y="395.7" text-anchor="middle">16:45</text>
<rect x="238.3" y="380" width="1" height="2" fill="#666"/>
<text class="ax" x="238.8" y="395.7" text-anchor="middle">19:45</text>
<rect x="293.9" y="380" width="1" height="2" fill="#666"/>
<text class="ax" x="294.4" y="395.7" text-anchor="middle">Tue</text>
<rect x="329.9" y="380" width="1" height="2" fill="#666"/>
<text class="ax" x="330.4" y="395.7" text-anchor="middle">02:45</text>
<rect x="365.9" y="380" width="1" height="2" fill="#666"/>
<text class="ax" x="366.4" y="395.7" text-anchor="middle">05:30</text>
<rect x="401.9" y="380" width="1" height="2" fill="#666"/>
<text class="ax" x="402.4" y="395.7" text-anchor="middle">08:15</text>
<rect x="437.9" y="380" width="1" height="2" fill="#666"/>
<text class="ax" x="438.4" y="395.7" text-anchor="middle">11:00</text>
<rect x="473.8" y="380" width="1" height="2" fill="#666"/>
<text class="ax" x="474.3" y="395.7" text-anchor="middle">13:45</text>
<rect x="509.8" y="380" width="1" height="2" fill="#666"/>
<text class="ax" x="510.3" y="395.7" text-anchor="middle">16:30</text>
<rect x="545.8" y="380" width="1" height="2" fill="#666"/>
<text class="ax" x="546.3" y="395.7" text-anchor="middle">19:15</text>
<rect x="608.0" y="380" width="1" height="2" fill="#666"/>
<text class="ax" x="608.5" y="395.7" text-anchor="middle">Wed</text>
<rect x="644.0" y="380" width="1" height="2" fill="#666"/>
<text class="ax" x="644.5" y="395.7" text-anchor="middle">02:45</text>
<rect x="680.0" y="380" width="1" height="2" fill="#666"/>
<text class="ax" x="680.5" y="395.7" text-anchor="middle">05:30</text>
<rect x="715.9" y="380" width="1" height="2" fill="#666"/>
<text class="ax" x="716.4" y="395.7" text-anchor="middle">08:15</text>
<rect x="751.9" y="380" width="1" height="2" fill="#666"/>
<text class="ax" x="752.4" y="395.7" text-anchor="middle">11:00</text>
<rect x="787.9" y="380" width="1" height="2" fill="#666"/>
<text class="ax" x="788.4" y="395.7" text-anchor="middle">13:45</text>
<rect x="823.9" y="380" width="1" height="2" fill="#666"/>
<text class="ax" x="824.4" y="395.7" text-anchor="middle">16:30</text>
<rect x="859.9" y="380" width="1" height="2" fill="#666"/>
<text class="ax" x="860.4" y="395.7" text-anchor="middle">19:15</text>
<rect x="922.0" y="380" width="1" height="2" fill="#666"/>
<text class="ax" x="922.5" y="395.7" text-anchor="middle">Thu</text>
<rect x="958.0" y="380" width="1" height="2" fill="#666"/>
<text class="ax" x="958.5" y="395.7" text-anchor="middle">02:45</text>
<rect x="994.0" y="380" width="1" height="2" fill="#666"/>
<text class="ax" x="994.5" y="395.7" text-anchor="middle">05:30</text>
<rect x="1030.0" y="380" width="1" height="2" fill="#666"/>
<text class="ax" x="1030.5" y="395.7" text-anchor="middle">08:15</text>
</g>
<g id="labels">
<rect x="8" y="10" width="62" height="22" fill="#000" fill-opacity="0.6"/>
<rect x="8" y="10" width="3" height="22" fill="#2d8b76"/>
<text class="lb" x="17" y="25.0">LTC/USD</text>
<rect x="71" y="10" width="22" height="22" fill="#000" fill-opacity="0.6"/>
<rect x="94" y="10" width="22" height="22" fill="#000" fill-opacity="0.6"/>
<path d="M82.9 16.6 A5.8 5.8 0 1 0 88.7 22.4" fill="none" stroke="#fff" stroke-width="1.3"/>
<path d="M82.4 13.8 L85.3 16.7 L82.4 19.5 Z" fill="#fff"/>
<path d="M99.7 20.6 V26.4 H111.3 V16.8 H100.5" fill="none" stroke="#fff" stroke-width="1.3"/>
<path d="M101.2 13.9 L97.8 16.6 L101.2 19.2 Z" fill="#fff"/>
<path d="M102.4 23.8 V20.9 M105.4 23.8 V19.8 M108.5 23.8 V18.7" fill="none" stroke="#fff" stroke-width="1.3"/>
<rect x="8" y="37" width="71" height="22" fill="#000" fill-opacity="0.6"/>
<rect x="8" y="37" width="3" height="22" fill="#0000ff"/>
<text class="lb" x="17" y="52.0">SMA (50,0)</text>
<rect x="8" y="64" width="77" height="22" fill="#000" fill-opacity="0.6"/>
<rect x="8" y="64" width="3" height="22" fill="#e8650a"/>
<text class="lb" x="17" y="79.0">SMA (100,0)</text>
<rect x="8" y="91" width="77" height="22" fill="#000" fill-opacity="0.6"/>
<rect x="8" y="91" width="3" height="22" fill="#9b009b"/>
<text class="lb" x="17" y="106.0">EMA (100,0)</text>
<clipPath id="cb"><rect x="0" y="300" width="200" height="34.5"/></clipPath><g clip-path="url(#cb)">
<rect x="8" y="317" width="95" height="22" fill="#000" fill-opacity="0.6"/>
<rect x="8" y="317" width="3" height="22" fill="#0000ff"/>
<text class="lb" x="17" y="332.0">MACD (12,26,9)</text>
</g>
<rect x="8" y="348" width="97" height="22" fill="#000" fill-opacity="0.6"/>
<rect x="8" y="348" width="3" height="22" fill="#00ff00"/>
<text class="lb" x="17" y="363.0">RSI (14,70,30,1)</text>
</g>
</svg></body></html>
